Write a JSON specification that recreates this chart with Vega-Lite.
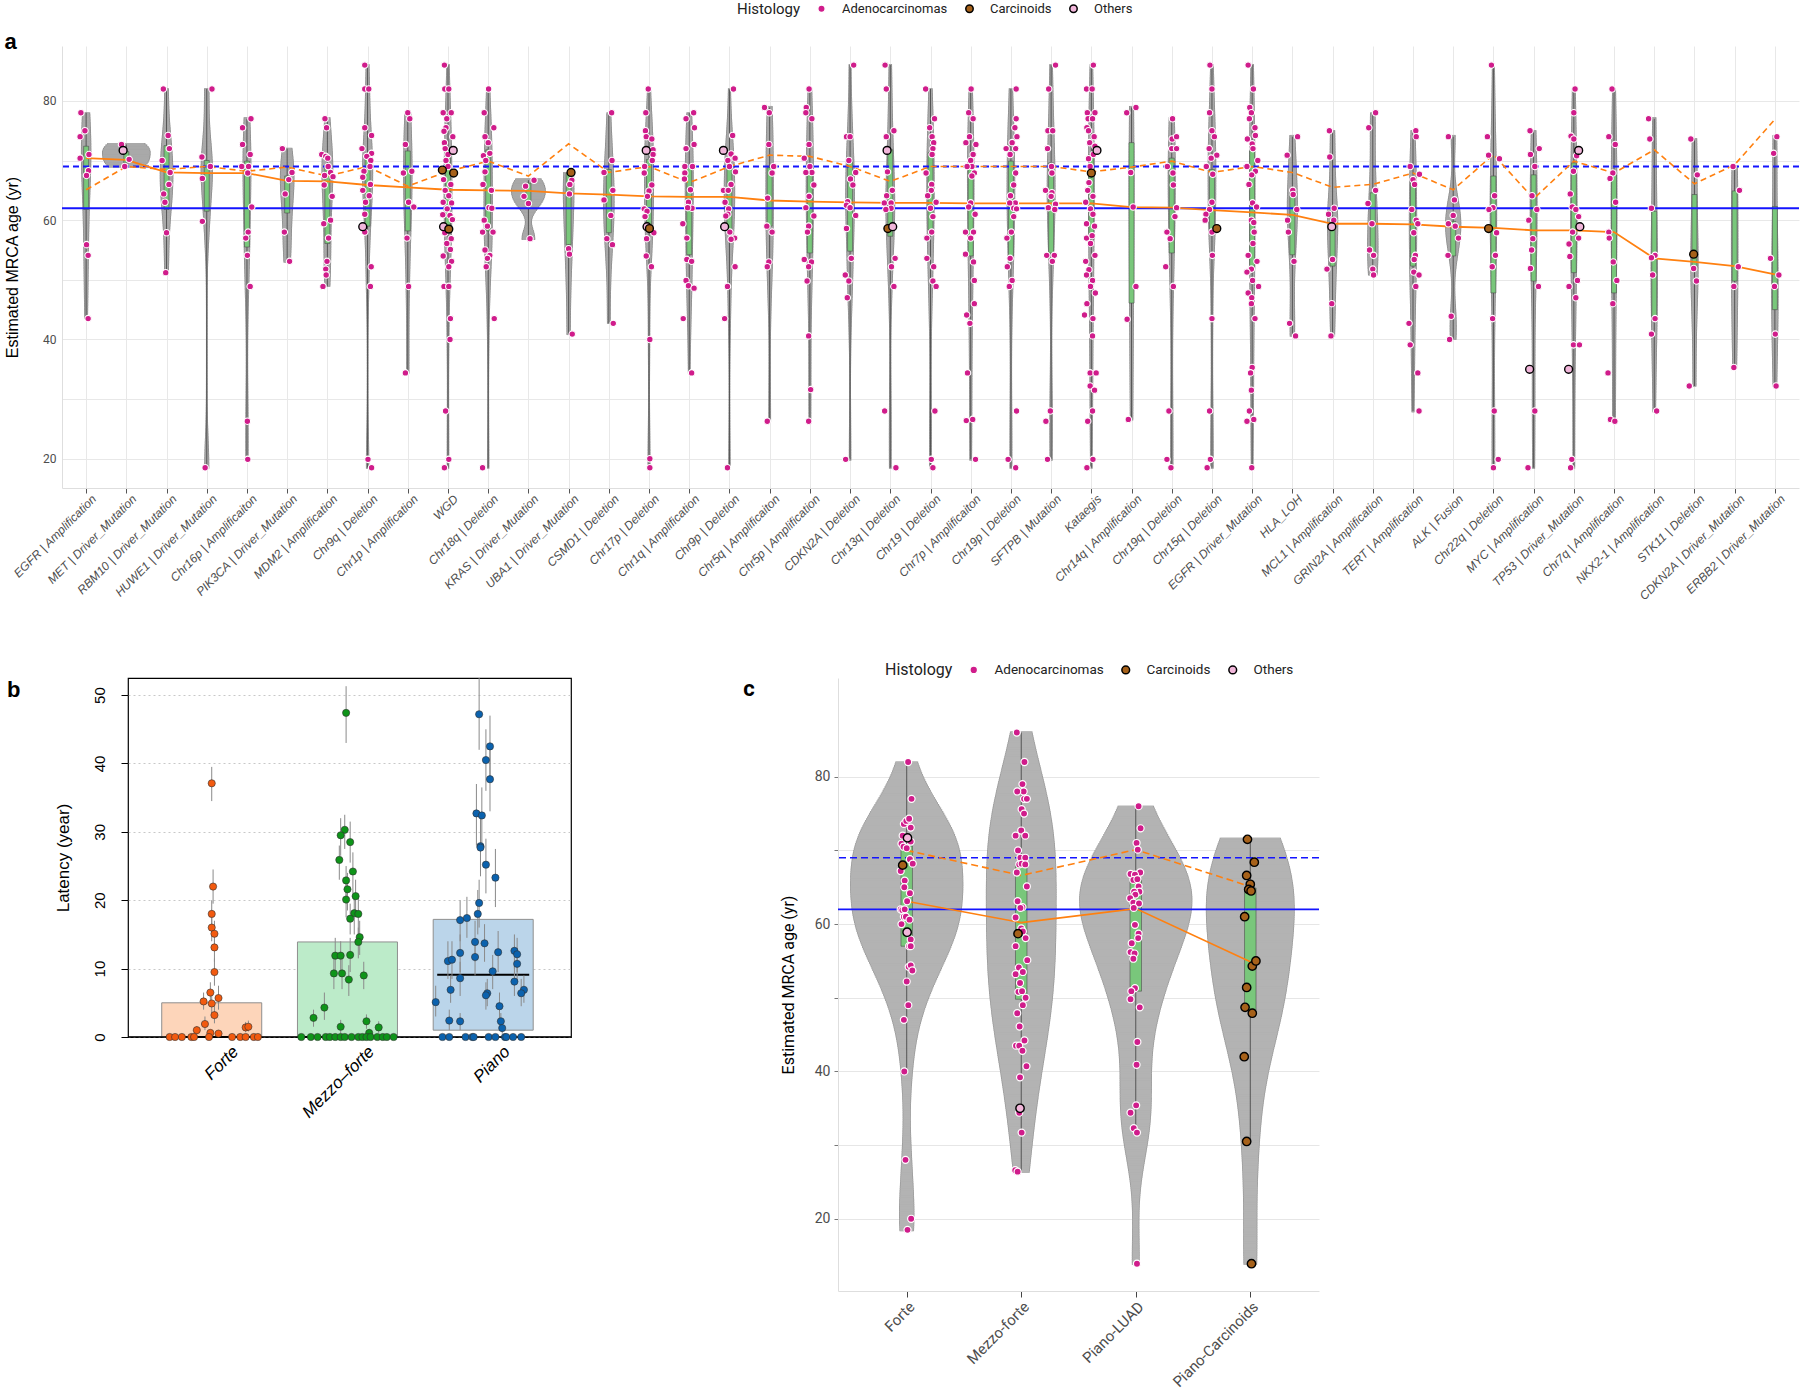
{
"$schema": "https://vega.github.io/schema/vega-lite/v6.json",
"background": "white",
"padding": {"left": 4, "top": 2, "right": 0, "bottom": 0},
"columns": 1,
"align": "none",
"spacing": 60,
"config": {"view": {"stroke": null}, "font": "Liberation Sans", "axis": {"titleFontWeight": "normal"}, "legend": {"titleFontWeight": "normal"}},
"resolve": {"scale": {"x": "independent", "y": "independent", "fill": "independent", "stroke": "independent", "size": "independent", "color": "independent"}, "legend": {"fill": "independent", "stroke": "independent", "size": "independent"}},
"datasets": {
"catsA": [{"i":1,"c":"EGFR | Amplification"},{"i":2,"c":"MET | Driver_Mutation"},{"i":3,"c":"RBM10 | Driver_Mutation"},{"i":4,"c":"HUWE1 | Driver_Mutation"},{"i":5,"c":"Chr16p | Amplificaiton"},{"i":6,"c":"PIK3CA | Driver_Mutation"},{"i":7,"c":"MDM2 | Amplification"},{"i":8,"c":"Chr9q | Deletion"},{"i":9,"c":"Chr1p | Amplification"},{"i":10,"c":"WGD"},{"i":11,"c":"Chr18q | Deletion"},{"i":12,"c":"KRAS | Driver_Mutation"},{"i":13,"c":"UBA1 | Driver_Mutation"},{"i":14,"c":"CSMD1 | Deletion"},{"i":15,"c":"Chr17p | Deletion"},{"i":16,"c":"Chr1q | Amplification"},{"i":17,"c":"Chr9p | Deletion"},{"i":18,"c":"Chr5q | Amplificaiton"},{"i":19,"c":"Chr5p | Amplification"},{"i":20,"c":"CDKN2A | Deletion"},{"i":21,"c":"Chr13q | Deletion"},{"i":22,"c":"Chr19 | Deletion"},{"i":23,"c":"Chr7p | Amplificaiton"},{"i":24,"c":"Chr19p | Deletion"},{"i":25,"c":"SFTPB | Mutation"},{"i":26,"c":"Kataegis"},{"i":27,"c":"Chr14q | Amplification"},{"i":28,"c":"Chr19q | Deletion"},{"i":29,"c":"Chr15q | Deletion"},{"i":30,"c":"EGFR | Driver_Mutation"},{"i":31,"c":"HLA_LOH"},{"i":32,"c":"MCL1 | Amplification"},{"i":33,"c":"GRIN2A | Amplification"},{"i":34,"c":"TERT | Amplification"},{"i":35,"c":"ALK | Fusion"},{"i":36,"c":"Chr22q | Deletion"},{"i":37,"c":"MYC | Amplification"},{"i":38,"c":"TP53 | Driver_Mutation"},{"i":39,"c":"Chr7q | Amplification"},{"i":40,"c":"NKX2-1 | Amplification"},{"i":41,"c":"STK11 | Deletion"},{"i":42,"c":"CDKN2A | Driver_Mutation"},{"i":43,"c":"ERBB2 | Driver_Mutation"}],
"A": [
{"i":1,"m":70.4,"d":65.1,"q1":61.8,"q3":72.4,"lo":43.5,"hi":78},
{"i":2,"m":70.1,"d":69.0,"q1":69.6,"q3":71.5,"lo":69,"hi":72.7},
{"i":3,"m":68.0,"d":68.5,"q1":61.8,"q3":72.5,"lo":51.2,"hi":82},
{"i":4,"m":67.9,"d":69.0,"q1":61.5,"q3":70.0,"lo":18.5,"hi":82},
{"i":5,"m":67.9,"d":68.2,"q1":55.5,"q3":69.9,"lo":19.9,"hi":77},
{"i":6,"m":66.6,"d":68.9,"q1":61.2,"q3":67.4,"lo":53.1,"hi":72},
{"i":7,"m":66.5,"d":67.4,"q1":56.1,"q3":68.8,"lo":48.9,"hi":77},
{"i":8,"m":65.9,"d":69.0,"q1":59.0,"q3":71.3,"lo":18.5,"hi":86},
{"i":9,"m":65.5,"d":65.7,"q1":58.2,"q3":71.6,"lo":34.4,"hi":78},
{"i":10,"m":65.1,"d":68.2,"q1":59.0,"q3":71.0,"lo":18.5,"hi":86},
{"i":11,"m":65.0,"d":69.9,"q1":58.2,"q3":71.8,"lo":18.5,"hi":82},
{"i":12,"m":64.9,"d":67.4,"q1":62.5,"q3":66.2,"lo":56.9,"hi":66.7},
{"i":13,"m":64.5,"d":72.8,"q1":55.9,"q3":67.9,"lo":40.9,"hi":68},
{"i":14,"m":64.3,"d":68.0,"q1":57.9,"q3":68.5,"lo":42.7,"hi":78},
{"i":15,"m":64.0,"d":69.0,"q1":59.0,"q3":70.2,"lo":18.5,"hi":82},
{"i":16,"m":63.9,"d":66.3,"q1":54.2,"q3":69.0,"lo":34.4,"hi":78},
{"i":17,"m":63.9,"d":69.0,"q1":58.2,"q3":69.0,"lo":18.5,"hi":82},
{"i":18,"m":63.3,"d":70.9,"q1":59.0,"q3":68.8,"lo":26.3,"hi":78.9},
{"i":19,"m":63.1,"d":70.7,"q1":54.5,"q3":67.9,"lo":26.3,"hi":82},
{"i":20,"m":63.0,"d":69.0,"q1":54.8,"q3":70.2,"lo":19.9,"hi":86},
{"i":21,"m":62.9,"d":66.5,"q1":57.3,"q3":71.8,"lo":18.5,"hi":86},
{"i":22,"m":62.9,"d":69.0,"q1":58.4,"q3":71.3,"lo":18.5,"hi":82},
{"i":23,"m":62.8,"d":69.0,"q1":54.0,"q3":69.6,"lo":19.9,"hi":82},
{"i":24,"m":62.8,"d":69.0,"q1":54.0,"q3":69.9,"lo":18.5,"hi":82},
{"i":25,"m":62.8,"d":69.0,"q1":54.5,"q3":69.6,"lo":19.9,"hi":86},
{"i":26,"m":62.8,"d":68.1,"q1":56.8,"q3":71.0,"lo":18.5,"hi":86},
{"i":27,"m":62.2,"d":68.9,"q1":46.1,"q3":73.0,"lo":26.6,"hi":78.9},
{"i":28,"m":62.1,"d":69.9,"q1":54.5,"q3":70.4,"lo":18.5,"hi":77},
{"i":29,"m":61.7,"d":68.0,"q1":57.9,"q3":68.5,"lo":18.5,"hi":86},
{"i":30,"m":61.3,"d":69.0,"q1":51.7,"q3":71.6,"lo":18.5,"hi":86},
{"i":31,"m":60.9,"d":68.0,"q1":54.2,"q3":64.6,"lo":40.6,"hi":74},
{"i":32,"m":59.4,"d":65.5,"q1":52.3,"q3":59.8,"lo":40.6,"hi":75},
{"i":33,"m":59.4,"d":66.0,"q1":54.5,"q3":64.6,"lo":50.8,"hi":78},
{"i":34,"m":59.3,"d":67.9,"q1":52.3,"q3":66.8,"lo":28,"hi":75},
{"i":35,"m":58.9,"d":65.1,"q1":54.0,"q3":59.8,"lo":40,"hi":74},
{"i":36,"m":58.7,"d":71.0,"q1":47.8,"q3":67.4,"lo":18.5,"hi":86},
{"i":37,"m":58.3,"d":63.6,"q1":49.8,"q3":67.6,"lo":18.5,"hi":75},
{"i":38,"m":58.3,"d":69.9,"q1":51.2,"q3":69.6,"lo":18.5,"hi":82},
{"i":39,"m":58.0,"d":67.9,"q1":47.8,"q3":67.6,"lo":26.3,"hi":82},
{"i":40,"m":53.6,"d":71.8,"q1":43.9,"q3":61.5,"lo":28,"hi":77},
{"i":41,"m":53.0,"d":66.1,"q1":51.7,"q3":64.3,"lo":32.2,"hi":73.6},
{"i":42,"m":52.3,"d":69.3,"q1":49.8,"q3":64.9,"lo":35.3,"hi":69},
{"i":43,"m":50.9,"d":76.9,"q1":45.0,"q3":62.3,"lo":32.2,"hi":74},
{"i":1,"v":78,"j":-0.13,"h":"A"},{"i":1,"v":75,"j":-0.03,"h":"A"},{"i":1,"v":74,"j":-0.15,"h":"A"},{"i":1,"v":70.4,"j":-0.15,"h":"A"},{"i":1,"v":71,"j":0.07,"h":"A"},{"i":1,"v":68.3,"j":0.06,"h":"A"},{"i":1,"v":67.5,"j":0.01,"h":"A"},{"i":1,"v":55.9,"j":0.01,"h":"A"},{"i":1,"v":54.1,"j":0.05,"h":"A"},{"i":1,"v":43.5,"j":0.05,"h":"A"},
{"i":2,"v":72.7,"j":-0.12,"h":"A"},{"i":2,"v":71.7,"j":-0.08,"h":"O"},{"i":2,"v":70.2,"j":0.07,"h":"A"},{"i":2,"v":69,"j":-0.04,"h":"A"},
{"i":3,"v":82,"j":-0.08,"h":"A"},{"i":3,"v":74.2,"j":0.04,"h":"A"},{"i":3,"v":72,"j":0.07,"h":"A"},{"i":3,"v":70,"j":-0.11,"h":"A"},{"i":3,"v":68,"j":0.09,"h":"A"},{"i":3,"v":66,"j":0.06,"h":"A"},{"i":3,"v":64.4,"j":-0.07,"h":"A"},{"i":3,"v":63,"j":-0.04,"h":"A"},{"i":3,"v":57.9,"j":0,"h":"A"},{"i":3,"v":51.2,"j":-0.02,"h":"A"},
{"i":4,"v":82,"j":0.13,"h":"A"},{"i":4,"v":70.6,"j":-0.12,"h":"A"},{"i":4,"v":69,"j":0.09,"h":"A"},{"i":4,"v":67,"j":-0.11,"h":"A"},{"i":4,"v":59.8,"j":-0.11,"h":"A"},{"i":4,"v":18.5,"j":-0.04,"h":"A"},
{"i":5,"v":77,"j":0.1,"h":"A"},{"i":5,"v":75.5,"j":-0.11,"h":"A"},{"i":5,"v":72.7,"j":-0.11,"h":"A"},{"i":5,"v":71,"j":0.08,"h":"A"},{"i":5,"v":69,"j":-0.13,"h":"A"},{"i":5,"v":69,"j":0.04,"h":"A"},{"i":5,"v":67.9,"j":0.02,"h":"A"},{"i":5,"v":62.2,"j":0.12,"h":"A"},{"i":5,"v":58,"j":0.03,"h":"A"},{"i":5,"v":57,"j":-0.03,"h":"A"},{"i":5,"v":54.1,"j":0.01,"h":"A"},{"i":5,"v":48.9,"j":0.08,"h":"A"},{"i":5,"v":26.3,"j":0.01,"h":"A"},{"i":5,"v":19.9,"j":0.02,"h":"A"},
{"i":6,"v":72,"j":-0.12,"h":"A"},{"i":6,"v":68,"j":0.12,"h":"A"},{"i":6,"v":66.8,"j":0.04,"h":"A"},{"i":6,"v":64.4,"j":-0.05,"h":"A"},{"i":6,"v":58,"j":-0.07,"h":"A"},{"i":6,"v":53.1,"j":0.06,"h":"A"},
{"i":7,"v":77,"j":-0.06,"h":"A"},{"i":7,"v":75.5,"j":-0.02,"h":"A"},{"i":7,"v":71,"j":-0.14,"h":"A"},{"i":7,"v":70.7,"j":-0.04,"h":"A"},{"i":7,"v":70.4,"j":0.01,"h":"A"},{"i":7,"v":69,"j":0.02,"h":"A"},{"i":7,"v":68,"j":0.08,"h":"A"},{"i":7,"v":67.5,"j":-0.07,"h":"A"},{"i":7,"v":67.3,"j":0.14,"h":"A"},{"i":7,"v":65.9,"j":-0.08,"h":"A"},{"i":7,"v":64,"j":0.12,"h":"A"},{"i":7,"v":60,"j":0.08,"h":"A"},{"i":7,"v":59.4,"j":-0.09,"h":"A"},{"i":7,"v":57,"j":0.03,"h":"A"},{"i":7,"v":53.1,"j":-0.01,"h":"A"},{"i":7,"v":51.8,"j":-0.04,"h":"A"},{"i":7,"v":50.8,"j":-0.03,"h":"A"},{"i":7,"v":48.9,"j":-0.11,"h":"A"},
{"i":8,"v":86,"j":-0.07,"h":"A"},{"i":8,"v":82,"j":-0.07,"h":"A"},{"i":8,"v":82,"j":0.03,"h":"A"},{"i":8,"v":75.5,"j":-0.07,"h":"A"},{"i":8,"v":74.2,"j":0.1,"h":"A"},{"i":8,"v":72,"j":-0.14,"h":"A"},{"i":8,"v":71.2,"j":0.1,"h":"A"},{"i":8,"v":70.7,"j":-0.02,"h":"A"},{"i":8,"v":70,"j":0.08,"h":"A"},{"i":8,"v":69,"j":0.06,"h":"A"},{"i":8,"v":68.2,"j":-0.09,"h":"A"},{"i":8,"v":67.2,"j":-0.12,"h":"A"},{"i":8,"v":66,"j":0.07,"h":"A"},{"i":8,"v":65,"j":-0.12,"h":"A"},{"i":8,"v":64.1,"j":0.04,"h":"A"},{"i":8,"v":63,"j":-0.05,"h":"A"},{"i":8,"v":61,"j":-0.07,"h":"A"},{"i":8,"v":58.9,"j":-0.12,"h":"O"},{"i":8,"v":58,"j":-0.07,"h":"A"},{"i":8,"v":52.2,"j":0.09,"h":"A"},{"i":8,"v":48.9,"j":0.07,"h":"A"},{"i":8,"v":19.9,"j":0.01,"h":"A"},{"i":8,"v":18.5,"j":0.1,"h":"A"},
{"i":9,"v":78,"j":0,"h":"A"},{"i":9,"v":77,"j":0.05,"h":"A"},{"i":9,"v":72.7,"j":-0.06,"h":"A"},{"i":9,"v":67.9,"j":-0.11,"h":"A"},{"i":9,"v":68.2,"j":0.1,"h":"A"},{"i":9,"v":63,"j":0.02,"h":"A"},{"i":9,"v":62.2,"j":0.15,"h":"A"},{"i":9,"v":57,"j":-0.02,"h":"A"},{"i":9,"v":48.9,"j":0.02,"h":"A"},{"i":9,"v":34.4,"j":-0.06,"h":"A"},
{"i":10,"v":86,"j":-0.09,"h":"A"},{"i":10,"v":82,"j":-0.08,"h":"A"},{"i":10,"v":82,"j":0.02,"h":"A"},{"i":10,"v":78,"j":-0.12,"h":"A"},{"i":10,"v":78,"j":0.08,"h":"A"},{"i":10,"v":77,"j":-0.03,"h":"A"},{"i":10,"v":75.5,"j":-0.05,"h":"A"},{"i":10,"v":74.9,"j":-0.1,"h":"A"},{"i":10,"v":74,"j":0.12,"h":"A"},{"i":10,"v":73,"j":-0.09,"h":"A"},{"i":10,"v":72,"j":-0.07,"h":"A"},{"i":10,"v":71.7,"j":0.13,"h":"O"},{"i":10,"v":71,"j":0,"h":"A"},{"i":10,"v":70,"j":-0.05,"h":"A"},{"i":10,"v":69,"j":0,"h":"A"},{"i":10,"v":68.4,"j":-0.14,"h":"C"},{"i":10,"v":67.9,"j":0.14,"h":"C"},{"i":10,"v":66.8,"j":-0.11,"h":"A"},{"i":10,"v":66,"j":0.07,"h":"A"},{"i":10,"v":65,"j":-0.07,"h":"A"},{"i":10,"v":64.1,"j":0.02,"h":"A"},{"i":10,"v":63,"j":-0.12,"h":"A"},{"i":10,"v":62.9,"j":0.09,"h":"A"},{"i":10,"v":61.9,"j":-0.02,"h":"A"},{"i":10,"v":60.9,"j":-0.13,"h":"A"},{"i":10,"v":60.8,"j":0.05,"h":"A"},{"i":10,"v":60.1,"j":0.11,"h":"A"},{"i":10,"v":58.9,"j":-0.11,"h":"O"},{"i":10,"v":58.5,"j":0.02,"h":"C"},{"i":10,"v":57.9,"j":-0.08,"h":"A"},{"i":10,"v":56.9,"j":0.08,"h":"A"},{"i":10,"v":56.1,"j":-0.03,"h":"A"},{"i":10,"v":55.1,"j":0.06,"h":"A"},{"i":10,"v":54,"j":-0.12,"h":"A"},{"i":10,"v":53.1,"j":0.09,"h":"A"},{"i":10,"v":52.2,"j":0.02,"h":"A"},{"i":10,"v":48.9,"j":-0.1,"h":"A"},{"i":10,"v":48.9,"j":0.02,"h":"A"},{"i":10,"v":43.5,"j":0.06,"h":"A"},{"i":10,"v":40,"j":0.05,"h":"A"},{"i":10,"v":28,"j":-0.06,"h":"A"},{"i":10,"v":19.9,"j":0.02,"h":"A"},{"i":10,"v":18.5,"j":-0.09,"h":"A"},
{"i":11,"v":82,"j":0.01,"h":"A"},{"i":11,"v":78,"j":-0.1,"h":"A"},{"i":11,"v":75.5,"j":0.14,"h":"A"},{"i":11,"v":74,"j":-0.08,"h":"A"},{"i":11,"v":73,"j":0,"h":"A"},{"i":11,"v":71.2,"j":0.04,"h":"A"},{"i":11,"v":70.8,"j":-0.12,"h":"A"},{"i":11,"v":70,"j":-0.06,"h":"A"},{"i":11,"v":68.1,"j":-0.08,"h":"A"},{"i":11,"v":66,"j":-0.13,"h":"A"},{"i":11,"v":65,"j":0.08,"h":"A"},{"i":11,"v":62.1,"j":0.02,"h":"A"},{"i":11,"v":62,"j":0.09,"h":"A"},{"i":11,"v":60,"j":-0.1,"h":"A"},{"i":11,"v":59,"j":-0.02,"h":"A"},{"i":11,"v":58,"j":0.12,"h":"A"},{"i":11,"v":58,"j":-0.14,"h":"A"},{"i":11,"v":55,"j":-0.08,"h":"A"},{"i":11,"v":54.1,"j":0.04,"h":"A"},{"i":11,"v":53.6,"j":-0.02,"h":"A"},{"i":11,"v":52.2,"j":-0.05,"h":"A"},{"i":11,"v":43.5,"j":0.15,"h":"A"},{"i":11,"v":18.5,"j":-0.14,"h":"A"},
{"i":12,"v":66.7,"j":0.14,"h":"A"},{"i":12,"v":65.7,"j":-0.07,"h":"A"},{"i":12,"v":64,"j":-0.11,"h":"A"},{"i":12,"v":62.8,"j":0,"h":"A"},{"i":12,"v":56.9,"j":0.04,"h":"A"},
{"i":13,"v":68,"j":0.06,"h":"C"},{"i":13,"v":66.7,"j":0.08,"h":"A"},{"i":13,"v":66,"j":0.03,"h":"A"},{"i":13,"v":64.4,"j":0.02,"h":"A"},{"i":13,"v":55.2,"j":0,"h":"A"},{"i":13,"v":54.3,"j":0.02,"h":"A"},{"i":13,"v":40.9,"j":0.09,"h":"A"},
{"i":14,"v":78,"j":0.07,"h":"A"},{"i":14,"v":70,"j":0.08,"h":"A"},{"i":14,"v":68,"j":-0.12,"h":"A"},{"i":14,"v":65,"j":0.1,"h":"A"},{"i":14,"v":63.4,"j":-0.12,"h":"A"},{"i":14,"v":60.8,"j":0.05,"h":"A"},{"i":14,"v":56.9,"j":-0.05,"h":"A"},{"i":14,"v":55.9,"j":0.09,"h":"A"},{"i":14,"v":42.7,"j":0.11,"h":"A"},
{"i":15,"v":82,"j":-0.02,"h":"A"},{"i":15,"v":78,"j":-0.08,"h":"A"},{"i":15,"v":75,"j":-0.09,"h":"A"},{"i":15,"v":74,"j":-0.07,"h":"A"},{"i":15,"v":73.6,"j":0.07,"h":"A"},{"i":15,"v":71.7,"j":-0.07,"h":"O"},{"i":15,"v":71.8,"j":0.1,"h":"A"},{"i":15,"v":71,"j":0.1,"h":"A"},{"i":15,"v":70,"j":0.08,"h":"A"},{"i":15,"v":69,"j":-0.11,"h":"A"},{"i":15,"v":67.9,"j":-0.12,"h":"A"},{"i":15,"v":65.9,"j":0.07,"h":"A"},{"i":15,"v":64.9,"j":0,"h":"A"},{"i":15,"v":64,"j":-0.04,"h":"A"},{"i":15,"v":61.9,"j":-0.12,"h":"A"},{"i":15,"v":61.5,"j":-0.05,"h":"A"},{"i":15,"v":60.6,"j":-0.1,"h":"A"},{"i":15,"v":58.9,"j":-0.05,"h":"O"},{"i":15,"v":58.6,"j":0.01,"h":"C"},{"i":15,"v":57.9,"j":0.12,"h":"A"},{"i":15,"v":56.9,"j":-0.06,"h":"A"},{"i":15,"v":54,"j":-0.07,"h":"A"},{"i":15,"v":52.2,"j":0.06,"h":"A"},{"i":15,"v":40,"j":0.02,"h":"A"},{"i":15,"v":20,"j":0.02,"h":"A"},{"i":15,"v":18.5,"j":0.02,"h":"A"},
{"i":16,"v":78,"j":0.11,"h":"A"},{"i":16,"v":77,"j":-0.08,"h":"A"},{"i":16,"v":75.5,"j":0.13,"h":"A"},{"i":16,"v":72.7,"j":0.12,"h":"A"},{"i":16,"v":72,"j":-0.08,"h":"A"},{"i":16,"v":69,"j":-0.11,"h":"A"},{"i":16,"v":69,"j":0.08,"h":"A"},{"i":16,"v":67.9,"j":-0.11,"h":"A"},{"i":16,"v":66.9,"j":-0.12,"h":"A"},{"i":16,"v":65.1,"j":0.03,"h":"A"},{"i":16,"v":63,"j":-0.02,"h":"A"},{"i":16,"v":62,"j":0.07,"h":"A"},{"i":16,"v":62.1,"j":-0.04,"h":"A"},{"i":16,"v":59.4,"j":-0.16,"h":"A"},{"i":16,"v":57,"j":-0.06,"h":"A"},{"i":16,"v":53.4,"j":-0.06,"h":"A"},{"i":16,"v":53.1,"j":0.06,"h":"A"},{"i":16,"v":49.9,"j":-0.08,"h":"A"},{"i":16,"v":49,"j":-0.02,"h":"A"},{"i":16,"v":48.6,"j":0.12,"h":"A"},{"i":16,"v":43.5,"j":-0.15,"h":"A"},{"i":16,"v":34.4,"j":0.06,"h":"A"},
{"i":17,"v":82,"j":0.1,"h":"A"},{"i":17,"v":74.2,"j":0.08,"h":"A"},{"i":17,"v":71.7,"j":-0.15,"h":"O"},{"i":17,"v":71.1,"j":0.04,"h":"A"},{"i":17,"v":70.4,"j":0.14,"h":"A"},{"i":17,"v":70,"j":-0.04,"h":"A"},{"i":17,"v":69,"j":0,"h":"A"},{"i":17,"v":68.1,"j":0.15,"h":"A"},{"i":17,"v":66,"j":0.04,"h":"A"},{"i":17,"v":65,"j":-0.15,"h":"A"},{"i":17,"v":65,"j":-0.03,"h":"A"},{"i":17,"v":63,"j":-0.11,"h":"A"},{"i":17,"v":61.9,"j":-0.02,"h":"A"},{"i":17,"v":61,"j":-0.04,"h":"A"},{"i":17,"v":60.7,"j":-0.09,"h":"A"},{"i":17,"v":58.9,"j":-0.12,"h":"O"},{"i":17,"v":58,"j":0.01,"h":"A"},{"i":17,"v":57,"j":0.13,"h":"A"},{"i":17,"v":56.8,"j":0.04,"h":"A"},{"i":17,"v":52.2,"j":0.14,"h":"A"},{"i":17,"v":48.9,"j":-0.05,"h":"A"},{"i":17,"v":43.5,"j":-0.12,"h":"A"},{"i":17,"v":18.5,"j":-0.05,"h":"A"},
{"i":18,"v":78.9,"j":-0.13,"h":"A"},{"i":18,"v":78,"j":-0.01,"h":"A"},{"i":18,"v":72.7,"j":-0.02,"h":"A"},{"i":18,"v":69,"j":0.1,"h":"A"},{"i":18,"v":67.9,"j":0.06,"h":"A"},{"i":18,"v":63.7,"j":-0.05,"h":"A"},{"i":18,"v":59,"j":-0.07,"h":"A"},{"i":18,"v":58,"j":0.06,"h":"A"},{"i":18,"v":53,"j":-0.02,"h":"A"},{"i":18,"v":52.2,"j":-0.06,"h":"A"},{"i":18,"v":26.3,"j":-0.06,"h":"A"},
{"i":19,"v":82,"j":-0.02,"h":"A"},{"i":19,"v":78.9,"j":-0.09,"h":"A"},{"i":19,"v":78,"j":-0.1,"h":"A"},{"i":19,"v":77,"j":0.05,"h":"A"},{"i":19,"v":72.7,"j":-0.02,"h":"A"},{"i":19,"v":70.4,"j":-0.14,"h":"A"},{"i":19,"v":69,"j":0,"h":"A"},{"i":19,"v":68,"j":0.05,"h":"A"},{"i":19,"v":68,"j":-0.1,"h":"A"},{"i":19,"v":65.9,"j":0.1,"h":"A"},{"i":19,"v":64,"j":-0.02,"h":"A"},{"i":19,"v":62.1,"j":-0.1,"h":"A"},{"i":19,"v":60.7,"j":0.1,"h":"A"},{"i":19,"v":59,"j":-0.03,"h":"A"},{"i":19,"v":58,"j":-0.06,"h":"A"},{"i":19,"v":53.4,"j":-0.14,"h":"A"},{"i":19,"v":53,"j":0.04,"h":"A"},{"i":19,"v":52.2,"j":-0.03,"h":"A"},{"i":19,"v":49.8,"j":-0.07,"h":"A"},{"i":19,"v":40.6,"j":-0.03,"h":"A"},{"i":19,"v":31.6,"j":0.02,"h":"A"},{"i":19,"v":26.3,"j":-0.03,"h":"A"},
{"i":20,"v":86,"j":0.09,"h":"A"},{"i":20,"v":74,"j":-0.09,"h":"A"},{"i":20,"v":74,"j":0,"h":"A"},{"i":20,"v":70,"j":-0.03,"h":"A"},{"i":20,"v":68,"j":0.14,"h":"A"},{"i":20,"v":66.9,"j":0.01,"h":"A"},{"i":20,"v":65.9,"j":0.07,"h":"A"},{"i":20,"v":63.1,"j":-0.06,"h":"A"},{"i":20,"v":62.5,"j":-0.09,"h":"A"},{"i":20,"v":62.1,"j":0,"h":"A"},{"i":20,"v":60.8,"j":0.14,"h":"A"},{"i":20,"v":58.6,"j":-0.09,"h":"A"},{"i":20,"v":53.6,"j":0.03,"h":"A"},{"i":20,"v":50.8,"j":-0.12,"h":"A"},{"i":20,"v":49.8,"j":-0.03,"h":"A"},{"i":20,"v":47,"j":-0.07,"h":"A"},{"i":20,"v":19.9,"j":-0.11,"h":"A"},
{"i":21,"v":86,"j":-0.13,"h":"A"},{"i":21,"v":82,"j":-0.1,"h":"A"},{"i":21,"v":75,"j":0.09,"h":"A"},{"i":21,"v":74,"j":-0.1,"h":"A"},{"i":21,"v":71.7,"j":-0.08,"h":"O"},{"i":21,"v":68.1,"j":-0.07,"h":"A"},{"i":21,"v":65,"j":0.05,"h":"A"},{"i":21,"v":64.1,"j":-0.09,"h":"A"},{"i":21,"v":62.9,"j":-0.15,"h":"A"},{"i":21,"v":62.9,"j":0.02,"h":"A"},{"i":21,"v":62,"j":0.02,"h":"A"},{"i":21,"v":61.8,"j":-0.11,"h":"A"},{"i":21,"v":58.6,"j":-0.06,"h":"C"},{"i":21,"v":58.9,"j":0.06,"h":"O"},{"i":21,"v":53.6,"j":0.12,"h":"A"},{"i":21,"v":52.2,"j":0.03,"h":"A"},{"i":21,"v":48.9,"j":0.09,"h":"A"},{"i":21,"v":28,"j":-0.14,"h":"A"},{"i":21,"v":18.5,"j":0.14,"h":"A"},
{"i":22,"v":82,"j":-0.12,"h":"A"},{"i":22,"v":77,"j":0.1,"h":"A"},{"i":22,"v":75.5,"j":-0.02,"h":"A"},{"i":22,"v":74,"j":0.04,"h":"A"},{"i":22,"v":73,"j":0.08,"h":"A"},{"i":22,"v":72,"j":0.06,"h":"A"},{"i":22,"v":71,"j":0.04,"h":"A"},{"i":22,"v":67.9,"j":-0.11,"h":"A"},{"i":22,"v":66,"j":0.03,"h":"A"},{"i":22,"v":65,"j":0.02,"h":"A"},{"i":22,"v":64.1,"j":-0.07,"h":"A"},{"i":22,"v":63,"j":0.14,"h":"A"},{"i":22,"v":62,"j":0,"h":"A"},{"i":22,"v":60.6,"j":0.06,"h":"A"},{"i":22,"v":58,"j":0.03,"h":"A"},{"i":22,"v":57,"j":-0.09,"h":"A"},{"i":22,"v":53.6,"j":-0.09,"h":"A"},{"i":22,"v":52.2,"j":0.08,"h":"A"},{"i":22,"v":49.8,"j":0.06,"h":"A"},{"i":22,"v":48.9,"j":0.14,"h":"A"},{"i":22,"v":28,"j":0.11,"h":"A"},{"i":22,"v":19.9,"j":0.02,"h":"A"},{"i":22,"v":18.5,"j":0.06,"h":"A"},
{"i":23,"v":82,"j":0.01,"h":"A"},{"i":23,"v":78,"j":-0.05,"h":"A"},{"i":23,"v":77,"j":0.06,"h":"A"},{"i":23,"v":74,"j":-0.03,"h":"A"},{"i":23,"v":73,"j":-0.12,"h":"A"},{"i":23,"v":72.7,"j":0.13,"h":"A"},{"i":23,"v":71,"j":0.06,"h":"A"},{"i":23,"v":70,"j":0,"h":"A"},{"i":23,"v":69,"j":0.03,"h":"A"},{"i":23,"v":69,"j":-0.09,"h":"A"},{"i":23,"v":67.9,"j":0.09,"h":"A"},{"i":23,"v":67.4,"j":0.03,"h":"A"},{"i":23,"v":62.9,"j":0,"h":"A"},{"i":23,"v":62.2,"j":-0.05,"h":"A"},{"i":23,"v":61,"j":0.11,"h":"A"},{"i":23,"v":58,"j":-0.13,"h":"A"},{"i":23,"v":58,"j":0.07,"h":"A"},{"i":23,"v":57,"j":0,"h":"A"},{"i":23,"v":54.3,"j":-0.13,"h":"A"},{"i":23,"v":53,"j":0.07,"h":"A"},{"i":23,"v":49.9,"j":0.09,"h":"A"},{"i":23,"v":46,"j":0.09,"h":"A"},{"i":23,"v":44.1,"j":-0.1,"h":"A"},{"i":23,"v":42.7,"j":-0.02,"h":"A"},{"i":23,"v":34.4,"j":-0.08,"h":"A"},{"i":23,"v":26.4,"j":-0.11,"h":"A"},{"i":23,"v":26.6,"j":0.05,"h":"A"},{"i":23,"v":19.9,"j":0.12,"h":"A"},
{"i":24,"v":82,"j":0.13,"h":"A"},{"i":24,"v":77,"j":0.13,"h":"A"},{"i":24,"v":75.5,"j":0.1,"h":"A"},{"i":24,"v":74,"j":0.15,"h":"A"},{"i":24,"v":73,"j":0.03,"h":"A"},{"i":24,"v":72,"j":-0.12,"h":"A"},{"i":24,"v":72,"j":0.12,"h":"A"},{"i":24,"v":71,"j":-0.02,"h":"A"},{"i":24,"v":67.9,"j":0.12,"h":"A"},{"i":24,"v":65.9,"j":0.07,"h":"A"},{"i":24,"v":64.1,"j":-0.01,"h":"A"},{"i":24,"v":62.9,"j":0.11,"h":"A"},{"i":24,"v":62,"j":0.07,"h":"A"},{"i":24,"v":62.9,"j":-0.03,"h":"A"},{"i":24,"v":61.9,"j":0.14,"h":"A"},{"i":24,"v":60.6,"j":0.07,"h":"A"},{"i":24,"v":58,"j":0.01,"h":"A"},{"i":24,"v":57,"j":-0.1,"h":"A"},{"i":24,"v":53.6,"j":-0.02,"h":"A"},{"i":24,"v":52.2,"j":-0.09,"h":"A"},{"i":24,"v":49.9,"j":0.03,"h":"A"},{"i":24,"v":48.9,"j":-0.04,"h":"A"},{"i":24,"v":28,"j":0.14,"h":"A"},{"i":24,"v":19.9,"j":-0.07,"h":"A"},{"i":24,"v":18.5,"j":0.12,"h":"A"},
{"i":25,"v":86,"j":0.11,"h":"A"},{"i":25,"v":82,"j":-0.06,"h":"A"},{"i":25,"v":75,"j":-0.08,"h":"A"},{"i":25,"v":75,"j":0.04,"h":"A"},{"i":25,"v":72,"j":-0.09,"h":"A"},{"i":25,"v":69,"j":0.01,"h":"A"},{"i":25,"v":67.9,"j":0.02,"h":"A"},{"i":25,"v":65,"j":-0.14,"h":"A"},{"i":25,"v":64.6,"j":0.02,"h":"A"},{"i":25,"v":64,"j":0,"h":"A"},{"i":25,"v":62.7,"j":0.11,"h":"A"},{"i":25,"v":62.1,"j":-0.07,"h":"A"},{"i":25,"v":61.8,"j":0.09,"h":"A"},{"i":25,"v":54.1,"j":-0.11,"h":"A"},{"i":25,"v":54.1,"j":0.08,"h":"A"},{"i":25,"v":53.1,"j":0.03,"h":"A"},{"i":25,"v":28,"j":-0.02,"h":"A"},{"i":25,"v":26.3,"j":-0.13,"h":"A"},{"i":25,"v":19.9,"j":-0.09,"h":"A"},
{"i":26,"v":86,"j":0.05,"h":"A"},{"i":26,"v":82,"j":-0.12,"h":"A"},{"i":26,"v":82,"j":0.02,"h":"A"},{"i":26,"v":78,"j":-0.1,"h":"A"},{"i":26,"v":78,"j":0.09,"h":"A"},{"i":26,"v":77,"j":-0.08,"h":"A"},{"i":26,"v":77,"j":0.03,"h":"A"},{"i":26,"v":75.5,"j":-0.11,"h":"A"},{"i":26,"v":75,"j":-0.07,"h":"A"},{"i":26,"v":74,"j":0.07,"h":"A"},{"i":26,"v":73,"j":-0.04,"h":"A"},{"i":26,"v":72.4,"j":0.09,"h":"A"},{"i":26,"v":71,"j":0.05,"h":"A"},{"i":26,"v":71.7,"j":0.14,"h":"O"},{"i":26,"v":70.3,"j":-0.07,"h":"A"},{"i":26,"v":69,"j":-0.03,"h":"A"},{"i":26,"v":67.9,"j":0,"h":"C"},{"i":26,"v":66.3,"j":-0.06,"h":"A"},{"i":26,"v":65,"j":-0.09,"h":"A"},{"i":26,"v":64,"j":0.04,"h":"A"},{"i":26,"v":63,"j":-0.14,"h":"A"},{"i":26,"v":61.9,"j":-0.02,"h":"A"},{"i":26,"v":61,"j":0.04,"h":"A"},{"i":26,"v":59.4,"j":-0.12,"h":"A"},{"i":26,"v":59,"j":0.08,"h":"A"},{"i":26,"v":57,"j":-0.12,"h":"A"},{"i":26,"v":57.4,"j":0.02,"h":"A"},{"i":26,"v":56.1,"j":-0.02,"h":"A"},{"i":26,"v":54.1,"j":0.09,"h":"A"},{"i":26,"v":53.1,"j":-0.14,"h":"A"},{"i":26,"v":51.7,"j":-0.06,"h":"A"},{"i":26,"v":50.8,"j":-0.12,"h":"A"},{"i":26,"v":49.9,"j":0.03,"h":"A"},{"i":26,"v":48.9,"j":-0.02,"h":"A"},{"i":26,"v":47.8,"j":0.1,"h":"A"},{"i":26,"v":46,"j":-0.11,"h":"A"},{"i":26,"v":44.1,"j":-0.17,"h":"A"},{"i":26,"v":43.5,"j":0.04,"h":"A"},{"i":26,"v":40.6,"j":0.03,"h":"A"},{"i":26,"v":34.4,"j":-0.03,"h":"A"},{"i":26,"v":34.4,"j":0.12,"h":"A"},{"i":26,"v":32.2,"j":-0.03,"h":"A"},{"i":26,"v":31.5,"j":0.08,"h":"A"},{"i":26,"v":28,"j":0.03,"h":"A"},{"i":26,"v":26.3,"j":-0.09,"h":"A"},{"i":26,"v":19.9,"j":0.04,"h":"A"},{"i":26,"v":18.5,"j":-0.11,"h":"A"},
{"i":27,"v":78,"j":-0.12,"h":"A"},{"i":27,"v":78.9,"j":0.11,"h":"A"},{"i":27,"v":68,"j":-0.02,"h":"A"},{"i":27,"v":62.2,"j":0.04,"h":"A"},{"i":27,"v":48.9,"j":0.11,"h":"A"},{"i":27,"v":43.4,"j":-0.11,"h":"A"},{"i":27,"v":26.6,"j":-0.08,"h":"A"},
{"i":28,"v":77,"j":0.02,"h":"A"},{"i":28,"v":73.6,"j":0.01,"h":"A"},{"i":28,"v":74,"j":0.12,"h":"A"},{"i":28,"v":72,"j":0,"h":"A"},{"i":28,"v":72,"j":0.12,"h":"A"},{"i":28,"v":69,"j":-0.11,"h":"A"},{"i":28,"v":67.9,"j":0.03,"h":"A"},{"i":28,"v":65.9,"j":0.04,"h":"A"},{"i":28,"v":62.1,"j":0.12,"h":"A"},{"i":28,"v":60.6,"j":0.08,"h":"A"},{"i":28,"v":58,"j":-0.12,"h":"A"},{"i":28,"v":56.9,"j":-0.04,"h":"A"},{"i":28,"v":52.2,"j":-0.15,"h":"A"},{"i":28,"v":48.9,"j":0.04,"h":"A"},{"i":28,"v":28,"j":-0.07,"h":"A"},{"i":28,"v":19.9,"j":-0.12,"h":"A"},{"i":28,"v":18.5,"j":-0.02,"h":"A"},
{"i":29,"v":86,"j":-0.05,"h":"A"},{"i":29,"v":82,"j":0,"h":"A"},{"i":29,"v":78,"j":-0.06,"h":"A"},{"i":29,"v":75,"j":0,"h":"A"},{"i":29,"v":74,"j":0.06,"h":"A"},{"i":29,"v":72,"j":-0.07,"h":"A"},{"i":29,"v":70.9,"j":0.12,"h":"A"},{"i":29,"v":70.4,"j":-0.02,"h":"A"},{"i":29,"v":69,"j":-0.14,"h":"A"},{"i":29,"v":67.7,"j":0.02,"h":"A"},{"i":29,"v":63,"j":0,"h":"A"},{"i":29,"v":61.8,"j":-0.06,"h":"A"},{"i":29,"v":61,"j":-0.15,"h":"A"},{"i":29,"v":60,"j":-0.17,"h":"A"},{"i":29,"v":58.6,"j":0.12,"h":"C"},{"i":29,"v":58,"j":0,"h":"A"},{"i":29,"v":54.1,"j":0.01,"h":"A"},{"i":29,"v":43.5,"j":0,"h":"A"},{"i":29,"v":28,"j":-0.06,"h":"A"},{"i":29,"v":19.9,"j":-0.04,"h":"A"},{"i":29,"v":18.5,"j":-0.12,"h":"A"},
{"i":30,"v":86,"j":-0.1,"h":"A"},{"i":30,"v":82,"j":0.03,"h":"A"},{"i":30,"v":78.9,"j":-0.06,"h":"A"},{"i":30,"v":78,"j":-0.02,"h":"A"},{"i":30,"v":77,"j":-0.07,"h":"A"},{"i":30,"v":75.5,"j":0.07,"h":"A"},{"i":30,"v":74.2,"j":0.08,"h":"A"},{"i":30,"v":73.6,"j":-0.12,"h":"A"},{"i":30,"v":72.8,"j":0,"h":"A"},{"i":30,"v":72,"j":0.02,"h":"A"},{"i":30,"v":70,"j":0.14,"h":"A"},{"i":30,"v":69,"j":-0.13,"h":"A"},{"i":30,"v":68.2,"j":0.08,"h":"A"},{"i":30,"v":67.6,"j":-0.01,"h":"A"},{"i":30,"v":66,"j":-0.08,"h":"A"},{"i":30,"v":62.9,"j":0.01,"h":"A"},{"i":30,"v":62.2,"j":0.11,"h":"A"},{"i":30,"v":60,"j":-0.02,"h":"A"},{"i":30,"v":59.6,"j":0.04,"h":"A"},{"i":30,"v":58,"j":0.05,"h":"A"},{"i":30,"v":56.1,"j":0.02,"h":"A"},{"i":30,"v":54.1,"j":-0.1,"h":"A"},{"i":30,"v":53.1,"j":0.12,"h":"A"},{"i":30,"v":51.8,"j":-0.02,"h":"A"},{"i":30,"v":51.3,"j":-0.13,"h":"A"},{"i":30,"v":49.9,"j":0.01,"h":"A"},{"i":30,"v":48.9,"j":0.16,"h":"A"},{"i":30,"v":47.8,"j":-0.1,"h":"A"},{"i":30,"v":47,"j":-0.01,"h":"A"},{"i":30,"v":46,"j":-0.02,"h":"A"},{"i":30,"v":43.5,"j":0.07,"h":"A"},{"i":30,"v":35.3,"j":0,"h":"A"},{"i":30,"v":34.4,"j":-0.04,"h":"A"},{"i":30,"v":31.5,"j":-0.02,"h":"A"},{"i":30,"v":28,"j":-0.07,"h":"A"},{"i":30,"v":26.3,"j":-0.13,"h":"A"},{"i":30,"v":26.6,"j":0.04,"h":"A"},{"i":30,"v":18.5,"j":-0.01,"h":"A"},
{"i":31,"v":74,"j":0.13,"h":"A"},{"i":31,"v":70.9,"j":-0.13,"h":"A"},{"i":31,"v":65,"j":0.01,"h":"A"},{"i":31,"v":64.3,"j":0.02,"h":"A"},{"i":31,"v":61.8,"j":0.11,"h":"A"},{"i":31,"v":60,"j":-0.12,"h":"A"},{"i":31,"v":58,"j":-0.1,"h":"A"},{"i":31,"v":53.1,"j":0.04,"h":"A"},{"i":31,"v":42.7,"j":-0.07,"h":"A"},{"i":31,"v":40.6,"j":0.08,"h":"A"},
{"i":32,"v":75,"j":-0.08,"h":"A"},{"i":32,"v":70.6,"j":-0.07,"h":"A"},{"i":32,"v":62,"j":0.04,"h":"A"},{"i":32,"v":61,"j":-0.1,"h":"A"},{"i":32,"v":60,"j":0.03,"h":"A"},{"i":32,"v":58.9,"j":-0.02,"h":"O"},{"i":32,"v":53.4,"j":0,"h":"A"},{"i":32,"v":51.8,"j":-0.14,"h":"A"},{"i":32,"v":46,"j":-0.02,"h":"A"},{"i":32,"v":40.6,"j":-0.04,"h":"A"},
{"i":33,"v":78,"j":0.07,"h":"A"},{"i":33,"v":75.5,"j":-0.1,"h":"A"},{"i":33,"v":65,"j":0.07,"h":"A"},{"i":33,"v":62.8,"j":-0.12,"h":"A"},{"i":33,"v":59.4,"j":-0.02,"h":"A"},{"i":33,"v":55,"j":-0.08,"h":"A"},{"i":33,"v":54.1,"j":0.02,"h":"A"},{"i":33,"v":51.8,"j":0,"h":"A"},{"i":33,"v":50.8,"j":0.02,"h":"A"},
{"i":34,"v":75,"j":0.07,"h":"A"},{"i":34,"v":74,"j":0.08,"h":"A"},{"i":34,"v":69,"j":-0.07,"h":"A"},{"i":34,"v":67.7,"j":0.16,"h":"A"},{"i":34,"v":66.8,"j":0,"h":"A"},{"i":34,"v":66,"j":0.04,"h":"A"},{"i":34,"v":61.8,"j":-0.03,"h":"A"},{"i":34,"v":60,"j":0.08,"h":"A"},{"i":34,"v":59.4,"j":0.12,"h":"A"},{"i":34,"v":57.9,"j":0.02,"h":"A"},{"i":34,"v":54.1,"j":0.06,"h":"A"},{"i":34,"v":53.4,"j":0.03,"h":"A"},{"i":34,"v":51.3,"j":0.02,"h":"A"},{"i":34,"v":50.8,"j":0.15,"h":"A"},{"i":34,"v":48.9,"j":0.07,"h":"A"},{"i":34,"v":42.7,"j":-0.1,"h":"A"},{"i":34,"v":39.1,"j":-0.07,"h":"A"},{"i":34,"v":34.4,"j":0.12,"h":"A"},{"i":34,"v":28,"j":0.15,"h":"A"},
{"i":35,"v":74,"j":-0.12,"h":"A"},{"i":35,"v":63.4,"j":0.03,"h":"A"},{"i":35,"v":60.8,"j":0,"h":"A"},{"i":35,"v":59.4,"j":-0.12,"h":"A"},{"i":35,"v":59,"j":0.05,"h":"A"},{"i":35,"v":57,"j":0.13,"h":"A"},{"i":35,"v":54.1,"j":-0.13,"h":"A"},{"i":35,"v":43.9,"j":-0.05,"h":"A"},{"i":35,"v":40,"j":-0.09,"h":"A"},
{"i":36,"v":86,"j":-0.05,"h":"A"},{"i":36,"v":74,"j":-0.15,"h":"A"},{"i":36,"v":70.9,"j":-0.12,"h":"A"},{"i":36,"v":70.3,"j":0.15,"h":"A"},{"i":36,"v":64.1,"j":0.03,"h":"A"},{"i":36,"v":62.1,"j":-0.01,"h":"A"},{"i":36,"v":61.8,"j":-0.11,"h":"A"},{"i":36,"v":58.6,"j":-0.12,"h":"C"},{"i":36,"v":57.9,"j":0.08,"h":"A"},{"i":36,"v":54.1,"j":0.05,"h":"A"},{"i":36,"v":52.2,"j":-0.03,"h":"A"},{"i":36,"v":43.5,"j":-0.02,"h":"A"},{"i":36,"v":28,"j":0.02,"h":"A"},{"i":36,"v":19.9,"j":0.12,"h":"A"},{"i":36,"v":18.5,"j":0,"h":"A"},
{"i":37,"v":75,"j":-0.09,"h":"A"},{"i":37,"v":72,"j":0.14,"h":"A"},{"i":37,"v":71,"j":-0.08,"h":"A"},{"i":37,"v":69,"j":0.03,"h":"A"},{"i":37,"v":64.1,"j":-0.04,"h":"A"},{"i":37,"v":61.8,"j":0.08,"h":"A"},{"i":37,"v":60,"j":-0.12,"h":"A"},{"i":37,"v":56.9,"j":-0.02,"h":"A"},{"i":37,"v":55,"j":-0.05,"h":"A"},{"i":37,"v":51.9,"j":-0.08,"h":"A"},{"i":37,"v":48.9,"j":0.12,"h":"A"},{"i":37,"v":35,"j":-0.1,"h":"O"},{"i":37,"v":28,"j":0.03,"h":"A"},{"i":37,"v":18.5,"j":-0.14,"h":"A"},
{"i":38,"v":82,"j":0.03,"h":"A"},{"i":38,"v":78,"j":0,"h":"A"},{"i":38,"v":74.1,"j":-0.07,"h":"A"},{"i":38,"v":73.6,"j":0,"h":"A"},{"i":38,"v":71.7,"j":0.12,"h":"O"},{"i":38,"v":70.8,"j":0.07,"h":"A"},{"i":38,"v":68.2,"j":-0.01,"h":"A"},{"i":38,"v":64.4,"j":-0.09,"h":"A"},{"i":38,"v":62.2,"j":-0.04,"h":"A"},{"i":38,"v":61.8,"j":0.05,"h":"A"},{"i":38,"v":60.6,"j":0.12,"h":"A"},{"i":38,"v":58.9,"j":0.15,"h":"O"},{"i":38,"v":58,"j":-0.03,"h":"A"},{"i":38,"v":57,"j":0.12,"h":"A"},{"i":38,"v":56,"j":-0.12,"h":"A"},{"i":38,"v":53.9,"j":-0.1,"h":"A"},{"i":38,"v":49.9,"j":0.09,"h":"A"},{"i":38,"v":48.9,"j":-0.12,"h":"A"},{"i":38,"v":47,"j":0.05,"h":"A"},{"i":38,"v":39.1,"j":-0.01,"h":"A"},{"i":38,"v":39.1,"j":0.14,"h":"A"},{"i":38,"v":35,"j":-0.13,"h":"O"},{"i":38,"v":19.9,"j":-0.05,"h":"A"},{"i":38,"v":18.5,"j":-0.08,"h":"A"},
{"i":39,"v":82,"j":-0.05,"h":"A"},{"i":39,"v":74,"j":-0.13,"h":"A"},{"i":39,"v":72.7,"j":0.03,"h":"A"},{"i":39,"v":67.9,"j":-0.03,"h":"A"},{"i":39,"v":67,"j":-0.1,"h":"A"},{"i":39,"v":63,"j":0.04,"h":"A"},{"i":39,"v":58,"j":-0.13,"h":"A"},{"i":39,"v":57,"j":-0.12,"h":"A"},{"i":39,"v":53,"j":-0.02,"h":"A"},{"i":39,"v":49.9,"j":0.07,"h":"A"},{"i":39,"v":46,"j":-0.03,"h":"A"},{"i":39,"v":34.4,"j":-0.15,"h":"A"},{"i":39,"v":26.6,"j":-0.09,"h":"A"},{"i":39,"v":26.3,"j":0.02,"h":"A"},
{"i":40,"v":77,"j":-0.14,"h":"A"},{"i":40,"v":73.6,"j":-0.11,"h":"A"},{"i":40,"v":62,"j":-0.07,"h":"A"},{"i":40,"v":54.1,"j":0.02,"h":"A"},{"i":40,"v":53.7,"j":-0.07,"h":"A"},{"i":40,"v":50.8,"j":-0.04,"h":"A"},{"i":40,"v":43.5,"j":0.02,"h":"A"},{"i":40,"v":40.9,"j":-0.07,"h":"A"},{"i":40,"v":28,"j":0.06,"h":"A"},
{"i":41,"v":73.6,"j":-0.09,"h":"A"},{"i":41,"v":67.6,"j":0.07,"h":"A"},{"i":41,"v":54.3,"j":-0.02,"h":"C"},{"i":41,"v":51.9,"j":-0.02,"h":"A"},{"i":41,"v":49.8,"j":0.05,"h":"A"},{"i":41,"v":32.2,"j":-0.13,"h":"A"},
{"i":42,"v":69,"j":-0.04,"h":"A"},{"i":42,"v":65,"j":0.12,"h":"A"},{"i":42,"v":52.2,"j":0.09,"h":"A"},{"i":42,"v":48.9,"j":-0.02,"h":"A"},{"i":42,"v":35.3,"j":-0.02,"h":"A"},
{"i":43,"v":74,"j":0.05,"h":"A"},{"i":43,"v":71.2,"j":-0.03,"h":"A"},{"i":43,"v":53.6,"j":-0.11,"h":"A"},{"i":43,"v":50.8,"j":0.1,"h":"A"},{"i":43,"v":48.9,"j":-0.01,"h":"A"},{"i":43,"v":40.9,"j":0.01,"h":"A"},{"i":43,"v":32.2,"j":0.03,"h":"A"}
],
"C": [
{"g":"Forte","m":63.1,"d":70.0,"q1":57.0,"q3":70.6,"lo":40,"hi":82},
{"g":"Mezzo-forte","m":60.2,"d":66.6,"q1":49.8,"q3":68.2,"lo":26.4,"hi":86},
{"g":"Piano-LUAD","m":62.1,"d":70.1,"q1":50.9,"q3":66.0,"lo":31.7,"hi":76},
{"g":"Piano-Carcinoids","m":54.9,"d":65.1,"q1":48.3,"q3":64.9,"lo":30.5,"hi":71.5},
{"g":"Forte","v":82,"j":0.035,"h":"A"},{"g":"Forte","v":77,"j":0.12,"h":"A"},{"g":"Forte","v":73.6,"j":-0.07,"h":"A"},{"g":"Forte","v":74,"j":-0.01,"h":"A"},{"g":"Forte","v":74.3,"j":0.06,"h":"A"},{"g":"Forte","v":72,"j":-0.1,"h":"A"},{"g":"Forte","v":73.1,"j":0.1,"h":"A"},{"g":"Forte","v":70.9,"j":-0.13,"h":"A"},{"g":"Forte","v":70.5,"j":-0.08,"h":"A"},{"g":"Forte","v":70.3,"j":0,"h":"A"},{"g":"Forte","v":71.2,"j":0.1,"h":"A"},{"g":"Forte","v":71.7,"j":0.02,"h":"O"},{"g":"Forte","v":68,"j":-0.1,"h":"C"},{"g":"Forte","v":68.8,"j":0.08,"h":"A"},{"g":"Forte","v":68.2,"j":0.15,"h":"A"},{"g":"Forte","v":67.2,"j":-0.15,"h":"A"},{"g":"Forte","v":65.9,"j":-0.05,"h":"A"},{"g":"Forte","v":65,"j":-0.06,"h":"A"},{"g":"Forte","v":64.2,"j":0.08,"h":"A"},{"g":"Forte","v":63.1,"j":0.01,"h":"A"},{"g":"Forte","v":62,"j":-0.15,"h":"A"},{"g":"Forte","v":61.9,"j":-0.11,"h":"A"},{"g":"Forte","v":62,"j":-0.05,"h":"A"},{"g":"Forte","v":61,"j":-0.07,"h":"A"},{"g":"Forte","v":61,"j":-0.02,"h":"A"},{"g":"Forte","v":60.6,"j":0.07,"h":"A"},{"g":"Forte","v":60,"j":-0.13,"h":"A"},{"g":"Forte","v":58.9,"j":0.01,"h":"O"},{"g":"Forte","v":57.9,"j":0.1,"h":"A"},{"g":"Forte","v":57,"j":0.06,"h":"A"},{"g":"Forte","v":57,"j":0.1,"h":"A"},{"g":"Forte","v":54.2,"j":0.05,"h":"A"},{"g":"Forte","v":54.4,"j":0.1,"h":"A"},{"g":"Forte","v":53.7,"j":0.14,"h":"A"},{"g":"Forte","v":52.2,"j":0,"h":"A"},{"g":"Forte","v":49,"j":0.04,"h":"A"},{"g":"Forte","v":47,"j":-0.07,"h":"A"},{"g":"Forte","v":40,"j":-0.06,"h":"A"},{"g":"Forte","v":28,"j":-0.03,"h":"A"},{"g":"Forte","v":20,"j":0.11,"h":"A"},{"g":"Forte","v":18.5,"j":0.02,"h":"A"},
{"g":"Mezzo-forte","v":86,"j":-0.11,"h":"A"},{"g":"Mezzo-forte","v":82,"j":0.08,"h":"A"},{"g":"Mezzo-forte","v":79,"j":0.03,"h":"A"},{"g":"Mezzo-forte","v":78,"j":0.06,"h":"A"},{"g":"Mezzo-forte","v":78,"j":-0.1,"h":"A"},{"g":"Mezzo-forte","v":77,"j":0.07,"h":"A"},{"g":"Mezzo-forte","v":77,"j":0.14,"h":"A"},{"g":"Mezzo-forte","v":75.6,"j":0.01,"h":"A"},{"g":"Mezzo-forte","v":75,"j":0.07,"h":"A"},{"g":"Mezzo-forte","v":72.7,"j":0,"h":"A"},{"g":"Mezzo-forte","v":72,"j":-0.14,"h":"A"},{"g":"Mezzo-forte","v":72,"j":0.1,"h":"A"},{"g":"Mezzo-forte","v":70,"j":-0.08,"h":"A"},{"g":"Mezzo-forte","v":69,"j":-0.02,"h":"A"},{"g":"Mezzo-forte","v":69,"j":0.1,"h":"A"},{"g":"Mezzo-forte","v":68.1,"j":-0.05,"h":"A"},{"g":"Mezzo-forte","v":68.2,"j":0.01,"h":"A"},{"g":"Mezzo-forte","v":68.1,"j":0.1,"h":"A"},{"g":"Mezzo-forte","v":67,"j":-0.11,"h":"A"},{"g":"Mezzo-forte","v":65.1,"j":0.14,"h":"A"},{"g":"Mezzo-forte","v":63.1,"j":-0.09,"h":"A"},{"g":"Mezzo-forte","v":62.3,"j":0.03,"h":"A"},{"g":"Mezzo-forte","v":62.2,"j":-0.02,"h":"A"},{"g":"Mezzo-forte","v":60.9,"j":-0.14,"h":"A"},{"g":"Mezzo-forte","v":59.4,"j":0,"h":"A"},{"g":"Mezzo-forte","v":59,"j":0.04,"h":"A"},{"g":"Mezzo-forte","v":58.7,"j":-0.08,"h":"C"},{"g":"Mezzo-forte","v":58.1,"j":0.11,"h":"A"},{"g":"Mezzo-forte","v":57,"j":-0.14,"h":"A"},{"g":"Mezzo-forte","v":55.1,"j":0.15,"h":"A"},{"g":"Mezzo-forte","v":54.1,"j":-0.06,"h":"A"},{"g":"Mezzo-forte","v":53.2,"j":-0.14,"h":"A"},{"g":"Mezzo-forte","v":53.5,"j":0.04,"h":"A"},{"g":"Mezzo-forte","v":52,"j":-0.03,"h":"A"},{"g":"Mezzo-forte","v":50.8,"j":-0.07,"h":"A"},{"g":"Mezzo-forte","v":50.9,"j":0.02,"h":"A"},{"g":"Mezzo-forte","v":50,"j":0.11,"h":"A"},{"g":"Mezzo-forte","v":49,"j":0.04,"h":"A"},{"g":"Mezzo-forte","v":47.9,"j":-0.1,"h":"A"},{"g":"Mezzo-forte","v":46.1,"j":-0.04,"h":"A"},{"g":"Mezzo-forte","v":43.5,"j":-0.13,"h":"A"},{"g":"Mezzo-forte","v":43.5,"j":-0.05,"h":"A"},{"g":"Mezzo-forte","v":44.2,"j":0.08,"h":"A"},{"g":"Mezzo-forte","v":42.8,"j":0.03,"h":"A"},{"g":"Mezzo-forte","v":40.7,"j":0.13,"h":"A"},{"g":"Mezzo-forte","v":39.2,"j":-0.03,"h":"A"},{"g":"Mezzo-forte","v":35,"j":-0.03,"h":"O"},{"g":"Mezzo-forte","v":34.4,"j":-0.05,"h":"A"},{"g":"Mezzo-forte","v":31.7,"j":0.01,"h":"A"},{"g":"Mezzo-forte","v":26.6,"j":-0.15,"h":"A"},{"g":"Mezzo-forte","v":26.4,"j":-0.09,"h":"A"},
{"g":"Piano-LUAD","v":76,"j":0.07,"h":"A"},{"g":"Piano-LUAD","v":73,"j":0.12,"h":"A"},{"g":"Piano-LUAD","v":71,"j":0.02,"h":"A"},{"g":"Piano-LUAD","v":70.1,"j":0.05,"h":"A"},{"g":"Piano-LUAD","v":67,"j":0.11,"h":"A"},{"g":"Piano-LUAD","v":66.8,"j":-0.13,"h":"A"},{"g":"Piano-LUAD","v":66.7,"j":-0.02,"h":"A"},{"g":"Piano-LUAD","v":66,"j":-0.06,"h":"A"},{"g":"Piano-LUAD","v":66.1,"j":0.04,"h":"A"},{"g":"Piano-LUAD","v":65.1,"j":0.07,"h":"A"},{"g":"Piano-LUAD","v":64.4,"j":0.09,"h":"A"},{"g":"Piano-LUAD","v":64.4,"j":-0.04,"h":"A"},{"g":"Piano-LUAD","v":64,"j":-0.01,"h":"A"},{"g":"Piano-LUAD","v":63.5,"j":-0.14,"h":"A"},{"g":"Piano-LUAD","v":62.9,"j":-0.06,"h":"A"},{"g":"Piano-LUAD","v":62.8,"j":0.08,"h":"A"},{"g":"Piano-LUAD","v":62.2,"j":-0.05,"h":"A"},{"g":"Piano-LUAD","v":59.9,"j":-0.02,"h":"A"},{"g":"Piano-LUAD","v":58.7,"j":0.07,"h":"A"},{"g":"Piano-LUAD","v":58.1,"j":0.06,"h":"A"},{"g":"Piano-LUAD","v":57.4,"j":-0.1,"h":"A"},{"g":"Piano-LUAD","v":56.2,"j":-0.13,"h":"A"},{"g":"Piano-LUAD","v":56,"j":-0.03,"h":"A"},{"g":"Piano-LUAD","v":55.3,"j":-0.06,"h":"A"},{"g":"Piano-LUAD","v":51.3,"j":-0.02,"h":"A"},{"g":"Piano-LUAD","v":50.9,"j":-0.11,"h":"A"},{"g":"Piano-LUAD","v":49.8,"j":-0.13,"h":"A"},{"g":"Piano-LUAD","v":48.7,"j":0.1,"h":"A"},{"g":"Piano-LUAD","v":44,"j":0.04,"h":"A"},{"g":"Piano-LUAD","v":40.9,"j":0.02,"h":"A"},{"g":"Piano-LUAD","v":35.4,"j":0.01,"h":"A"},{"g":"Piano-LUAD","v":34.4,"j":-0.13,"h":"A"},{"g":"Piano-LUAD","v":32.3,"j":-0.05,"h":"A"},{"g":"Piano-LUAD","v":31.7,"j":0.03,"h":"A"},{"g":"Piano-LUAD","v":13.9,"j":0.03,"h":"A"},
{"g":"Piano-Carcinoids","v":71.5,"j":-0.07,"h":"C"},{"g":"Piano-Carcinoids","v":68.4,"j":0.1,"h":"C"},{"g":"Piano-Carcinoids","v":66.6,"j":-0.09,"h":"C"},{"g":"Piano-Carcinoids","v":65.4,"j":0,"h":"C"},{"g":"Piano-Carcinoids","v":64.7,"j":-0.04,"h":"C"},{"g":"Piano-Carcinoids","v":64.5,"j":0.02,"h":"C"},{"g":"Piano-Carcinoids","v":61,"j":-0.14,"h":"C"},{"g":"Piano-Carcinoids","v":54.3,"j":0.05,"h":"C"},{"g":"Piano-Carcinoids","v":55,"j":0.14,"h":"C"},{"g":"Piano-Carcinoids","v":51.4,"j":-0.09,"h":"C"},{"g":"Piano-Carcinoids","v":48.7,"j":-0.13,"h":"C"},{"g":"Piano-Carcinoids","v":47.9,"j":0.05,"h":"C"},{"g":"Piano-Carcinoids","v":42,"j":-0.15,"h":"C"},{"g":"Piano-Carcinoids","v":30.5,"j":-0.09,"h":"C"},{"g":"Piano-Carcinoids","v":13.9,"j":0.03,"h":"C"}
],
"Bb": [
{"g":"Forte","x":1,"q1":0,"q3":5.0,"med":0},
{"g":"Mezzo–forte","x":2,"q1":0,"q3":13.9,"med":0},
{"g":"Piano","x":3,"q1":1.0,"q3":17.2,"med":9.1}
],
"Bp": [
{"g":"Forte","x":1.0,"y":37.1,"lo":34.5,"hi":39.5},{"g":"Forte","x":1.01,"y":22.0,"lo":19.5,"hi":24.5},{"g":"Forte","x":1.0,"y":18.0,"lo":16,"hi":20},{"g":"Forte","x":1.0,"y":16.0,"lo":14,"hi":18.5},{"g":"Forte","x":1.02,"y":15.1,"lo":13,"hi":17},{"g":"Forte","x":1.02,"y":13.1,"lo":11,"hi":15},{"g":"Forte","x":1.02,"y":9.5,"lo":7.5,"hi":11.5},{"g":"Forte","x":0.99,"y":6.5,"lo":5,"hi":8},{"g":"Forte","x":0.94,"y":5.2,"lo":4,"hi":6.5},{"g":"Forte","x":1.0,"y":4.9,"lo":3.5,"hi":6.5},{"g":"Forte","x":1.05,"y":5.7,"lo":4,"hi":7.5},{"g":"Forte","x":1.02,"y":3.2,"lo":2,"hi":4.5},{"g":"Forte","x":0.95,"y":1.9,"lo":1,"hi":3},{"g":"Forte","x":0.89,"y":1.0,"lo":0.4,"hi":1.6},{"g":"Forte","x":1.25,"y":1.4,"lo":0.7,"hi":2.2},{"g":"Forte","x":1.27,"y":1.5,"lo":0.8,"hi":2.4},{"g":"Forte","x":0.99,"y":0.6,"lo":0.2,"hi":1},{"g":"Forte","x":1.05,"y":0.5,"lo":0.2,"hi":1},
{"g":"Forte","x":0.69,"y":0},{"g":"Forte","x":0.73,"y":0},{"g":"Forte","x":0.78,"y":0},{"g":"Forte","x":0.85,"y":0},{"g":"Forte","x":0.87,"y":0},{"g":"Forte","x":0.98,"y":0},{"g":"Forte","x":1.15,"y":0},{"g":"Forte","x":1.21,"y":0},{"g":"Forte","x":1.25,"y":0},{"g":"Forte","x":1.31,"y":0},{"g":"Forte","x":1.34,"y":0},
{"g":"Mezzo–forte","x":1.99,"y":47.4,"lo":43,"hi":51.3},{"g":"Mezzo–forte","x":1.98,"y":30.3,"lo":27.5,"hi":32.5},{"g":"Mezzo–forte","x":1.95,"y":29.5,"lo":26.5,"hi":32},{"g":"Mezzo–forte","x":2.02,"y":28.5,"lo":25.5,"hi":31.5},{"g":"Mezzo–forte","x":1.94,"y":25.9,"lo":23,"hi":28},{"g":"Mezzo–forte","x":2.04,"y":24.2,"lo":21,"hi":27},{"g":"Mezzo–forte","x":1.99,"y":22.9,"lo":20,"hi":25},{"g":"Mezzo–forte","x":2.0,"y":21.6,"lo":18.5,"hi":24},{"g":"Mezzo–forte","x":1.99,"y":20.1,"lo":17.5,"hi":22.5},{"g":"Mezzo–forte","x":2.06,"y":20.6,"lo":17.5,"hi":23},{"g":"Mezzo–forte","x":2.05,"y":18.1,"lo":15,"hi":21},{"g":"Mezzo–forte","x":2.08,"y":18.0,"lo":15,"hi":20.5},{"g":"Mezzo–forte","x":2.02,"y":17.3,"lo":15,"hi":19.5},{"g":"Mezzo–forte","x":2.09,"y":14.6,"lo":12,"hi":17},{"g":"Mezzo–forte","x":2.08,"y":13.9,"lo":11.5,"hi":16},{"g":"Mezzo–forte","x":1.91,"y":11.9,"lo":9,"hi":14.5},{"g":"Mezzo–forte","x":1.95,"y":11.9,"lo":9.5,"hi":14},{"g":"Mezzo–forte","x":2.02,"y":12.0,"lo":9.5,"hi":14.5},{"g":"Mezzo–forte","x":1.9,"y":9.3,"lo":7,"hi":11.5},{"g":"Mezzo–forte","x":1.96,"y":9.3,"lo":7,"hi":11.5},{"g":"Mezzo–forte","x":2.12,"y":9.0,"lo":7,"hi":11},{"g":"Mezzo–forte","x":2.01,"y":8.4,"lo":6,"hi":10.5},{"g":"Mezzo–forte","x":1.83,"y":4.3,"lo":2.5,"hi":6.5},{"g":"Mezzo–forte","x":1.75,"y":2.8,"lo":1.5,"hi":4},{"g":"Mezzo–forte","x":1.95,"y":1.5,"lo":0.5,"hi":2.5},{"g":"Mezzo–forte","x":2.14,"y":2.3,"lo":1.2,"hi":3.3},{"g":"Mezzo–forte","x":2.23,"y":1.4,"lo":0.6,"hi":2.3},{"g":"Mezzo–forte","x":2.16,"y":0.6,"lo":0.2,"hi":1.2},
{"g":"Mezzo–forte","x":1.66,"y":0},{"g":"Mezzo–forte","x":1.73,"y":0},{"g":"Mezzo–forte","x":1.78,"y":0},{"g":"Mezzo–forte","x":1.84,"y":0},{"g":"Mezzo–forte","x":1.87,"y":0},{"g":"Mezzo–forte","x":1.91,"y":0},{"g":"Mezzo–forte","x":1.95,"y":0},{"g":"Mezzo–forte","x":1.98,"y":0},{"g":"Mezzo–forte","x":2.03,"y":0},{"g":"Mezzo–forte","x":2.08,"y":0},{"g":"Mezzo–forte","x":2.11,"y":0},{"g":"Mezzo–forte","x":2.14,"y":0},{"g":"Mezzo–forte","x":2.17,"y":0},{"g":"Mezzo–forte","x":2.22,"y":0},{"g":"Mezzo–forte","x":2.26,"y":0},{"g":"Mezzo–forte","x":2.29,"y":0},{"g":"Mezzo–forte","x":2.34,"y":0},
{"g":"Piano","x":2.97,"y":47.2,"lo":42,"hi":52.5},{"g":"Piano","x":3.05,"y":42.5,"lo":38,"hi":47},{"g":"Piano","x":3.02,"y":40.5,"lo":36,"hi":45},{"g":"Piano","x":3.05,"y":37.7,"lo":33,"hi":42},{"g":"Piano","x":2.95,"y":32.7,"lo":28,"hi":37},{"g":"Piano","x":2.99,"y":32.4,"lo":27.5,"hi":36.5},{"g":"Piano","x":2.98,"y":27.9,"lo":24,"hi":32},{"g":"Piano","x":2.98,"y":27.7,"lo":23.5,"hi":32},{"g":"Piano","x":3.02,"y":25.2,"lo":21,"hi":29},{"g":"Piano","x":3.09,"y":23.3,"lo":19,"hi":27.5},{"g":"Piano","x":2.97,"y":19.6,"lo":16,"hi":23},{"g":"Piano","x":2.96,"y":18.0,"lo":15,"hi":21.5},{"g":"Piano","x":2.83,"y":17.1,"lo":14,"hi":20},{"g":"Piano","x":2.88,"y":17.4,"lo":14.5,"hi":20.5},{"g":"Piano","x":2.94,"y":13.9,"lo":11,"hi":17},{"g":"Piano","x":3.01,"y":13.7,"lo":11,"hi":16.5},{"g":"Piano","x":2.83,"y":12.3,"lo":9.5,"hi":15},{"g":"Piano","x":3.11,"y":12.4,"lo":9.5,"hi":15.5},{"g":"Piano","x":3.23,"y":12.6,"lo":10,"hi":15},{"g":"Piano","x":3.25,"y":12.1,"lo":9.5,"hi":14.5},{"g":"Piano","x":2.94,"y":11.7,"lo":9,"hi":14},{"g":"Piano","x":2.74,"y":11.1,"lo":8.5,"hi":14},{"g":"Piano","x":2.77,"y":11.3,"lo":8.5,"hi":14},{"g":"Piano","x":3.25,"y":10.7,"lo":8,"hi":13},{"g":"Piano","x":3.07,"y":9.6,"lo":7,"hi":12},{"g":"Piano","x":2.83,"y":8.6,"lo":6,"hi":11},{"g":"Piano","x":3.23,"y":8.1,"lo":6,"hi":10.5},{"g":"Piano","x":2.76,"y":6.9,"lo":5,"hi":9},{"g":"Piano","x":3.3,"y":6.9,"lo":5,"hi":9},{"g":"Piano","x":3.28,"y":6.4,"lo":4.5,"hi":8.5},{"g":"Piano","x":3.03,"y":6.4,"lo":4.5,"hi":8.5},{"g":"Piano","x":3.02,"y":6.1,"lo":4,"hi":8},{"g":"Piano","x":2.65,"y":5.1,"lo":3,"hi":7.5},{"g":"Piano","x":3.12,"y":4.5,"lo":2.5,"hi":6.5},{"g":"Piano","x":2.75,"y":2.4,"lo":1,"hi":4},{"g":"Piano","x":2.83,"y":2.3,"lo":1,"hi":3.5},{"g":"Piano","x":3.13,"y":2.3,"lo":1,"hi":3.5},{"g":"Piano","x":3.14,"y":1.3,"lo":0.5,"hi":2},
{"g":"Piano","x":2.7,"y":0},{"g":"Piano","x":2.75,"y":0},{"g":"Piano","x":2.87,"y":0},{"g":"Piano","x":2.92,"y":0},{"g":"Piano","x":2.93,"y":0},{"g":"Piano","x":3.04,"y":0},{"g":"Piano","x":3.09,"y":0},{"g":"Piano","x":3.16,"y":0},{"g":"Piano","x":3.17,"y":0},{"g":"Piano","x":3.22,"y":0},{"g":"Piano","x":3.28,"y":0}
]
},
"concat": [
{
 "width": 1737, "height": 442,
 "data": {"name": "A"},
 "transform": [{"lookup": "i", "from": {"data": {"name": "catsA"}, "key": "i", "fields": ["c"]}}],
 "title": {"text": "a", "anchor": "start", "frame": "bounds", "dy": 52, "font": "Liberation Sans Narrow, Liberation Sans", "fontSize": 22, "fontWeight": "bold", "color": "#000", "offset": 0},
 "resolve": {"scale": {"size": "independent"}},
 "layer": [
  {"transform": [{"filter": "isValid(datum.v)"}, {"joinaggregate": [{"op": "min", "field": "v", "as": "vmin"}, {"op": "max", "field": "v", "as": "vmax"}], "groupby": ["i"]}, {"density": "v", "groupby": ["c", "i", "vmin", "vmax"], "steps": 250, "as": ["v", "dens"]}, {"filter": "datum.v >= datum.vmin - 0.14 && datum.v <= datum.vmax + 0.14"}],
   "mark": {"type": "tick", "orient": "horizontal", "thickness": 2, "color": "#8a8a8a", "opacity": 1},
   "encoding": {
    "x": {"field": "c", "type": "nominal", "title": null, "sort": {"field": "i", "op": "min"}, "scale": {"type": "point", "padding": 0.6},
      "axis": {"labelAngle": -45, "labelAlign": "right", "labelBaseline": "top", "labelOffset": 4, "labelPadding": 0, "labelLimit": 400, "labelFont": "Liberation Sans Narrow, Liberation Sans", "labelFontStyle": "italic", "labelFontSize": 12, "labelColor": "#4d4d4d", "ticks": true, "tickSize": 5, "tickColor": "#555", "grid": true, "gridColor": "#e8e8e8", "domain": true, "domainColor": "#dedede"}},
    "y": {"field": "v", "type": "quantitative", "title": "Estimated MRCA age (yr)", "scale": {"domain": [15.1, 89.2], "nice": false, "zero": false},
      "axis": {"values": [20,30,40,50,60,70,80], "labelExpr": "datum.value % 20 == 0 ? datum.label : ''", "labelFont": "Liberation Sans Narrow, Roboto", "labelFontSize": 12, "labelColor": "#4d4d4d", "labelPadding": 6, "ticks": false, "domain": true, "domainColor": "#dedede", "gridColor": "#e8e8e8", "titleFont": "Liberation Sans", "titleFontSize": 16, "titleColor": "#000", "titlePadding": 22}},
    "size": {"field": "dens", "type": "quantitative", "scale": {"domain": [0, 1], "range": [1.6, 251.6], "zero": false}, "legend": null}
   }},
  {"transform": [{"filter": "isValid(datum.v)"}, {"joinaggregate": [{"op": "min", "field": "v", "as": "vmin"}, {"op": "max", "field": "v", "as": "vmax"}], "groupby": ["i"]}, {"density": "v", "groupby": ["c", "i", "vmin", "vmax"], "steps": 250, "as": ["v", "dens"]}, {"filter": "datum.v >= datum.vmin - 0.14 && datum.v <= datum.vmax + 0.14"}],
   "mark": {"type": "tick", "orient": "horizontal", "thickness": 2, "color": "#a9a9a9", "opacity": 1},
   "encoding": {
    "x": {"field": "c", "type": "nominal", "title": null, "sort": {"field": "i", "op": "min"}},
    "y": {"field": "v", "type": "quantitative", "title": "Estimated MRCA age (yr)"},
    "size": {"field": "dens", "type": "quantitative", "scale": {"domain": [0, 1], "range": [0, 250], "zero": false}, "legend": null}
   }},
  {"transform": [{"filter": "isValid(datum.m)"}],
   "mark": {"type": "rule", "color": "#555555", "strokeWidth": 1},
   "encoding": {"x": {"field": "c", "type": "nominal", "title": null, "sort": {"field": "i", "op": "min"}}, "y": {"field": "lo", "type": "quantitative", "title": "Estimated MRCA age (yr)"}, "y2": {"field": "hi"}}},
  {"transform": [{"filter": "isValid(datum.m)"}],
   "mark": {"type": "bar", "width": 5, "fill": "#79c77b", "stroke": "#4d4d4d", "strokeWidth": 0.6},
   "encoding": {"x": {"field": "c", "type": "nominal", "title": null, "sort": {"field": "i", "op": "min"}}, "y": {"field": "q1", "type": "quantitative", "title": "Estimated MRCA age (yr)"}, "y2": {"field": "q3"}}},
  {"transform": [{"filter": "datum.i == 1 && isValid(datum.m)"}],
   "mark": {"type": "rule", "color": "#1414ff", "strokeWidth": 1.8},
   "encoding": {"y": {"datum": 62, "type": "quantitative"}}},
  {"transform": [{"filter": "datum.i == 1 && isValid(datum.m)"}],
   "mark": {"type": "rule", "color": "#1414ff", "strokeWidth": 1.8, "strokeDash": [6, 4]},
   "encoding": {"y": {"datum": 69, "type": "quantitative"}}},
  {"transform": [{"filter": "isValid(datum.m)"}],
   "mark": {"type": "line", "color": "#ff8010", "strokeWidth": 1.8},
   "encoding": {"x": {"field": "c", "type": "nominal", "title": null, "sort": {"field": "i", "op": "min"}}, "y": {"field": "m", "type": "quantitative", "title": "Estimated MRCA age (yr)"}}},
  {"transform": [{"filter": "isValid(datum.m)"}],
   "mark": {"type": "line", "color": "#ff8010", "strokeWidth": 1.6, "strokeDash": [6, 4]},
   "encoding": {"x": {"field": "c", "type": "nominal", "title": null, "sort": {"field": "i", "op": "min"}}, "y": {"field": "d", "type": "quantitative", "title": "Estimated MRCA age (yr)"}}},
  {"transform": [{"filter": "isValid(datum.v) && datum.h == 'A'"}],
   "mark": {"type": "circle", "opacity": 1, "size": 42, "strokeWidth": 1.1},
   "encoding": {
    "x": {"field": "c", "type": "nominal", "title": null, "sort": {"field": "i", "op": "min"}},
    "xOffset": {"field": "j", "type": "quantitative", "scale": {"domain": [-0.5, 0.5], "range": [-20.1, 20.1]}},
    "y": {"field": "v", "type": "quantitative", "title": "Estimated MRCA age (yr)"},
    "fill": {"field": "h", "type": "nominal", "title": "Histology", "scale": {"domain": ["A","C","O"], "range": ["#D01C8B","#A6611A","#F1B6DA"]},
      "legend": {"orient": "none", "legendX": 675, "legendY": -44, "direction": "horizontal", "titleOrient": "left", "titleFont": "Liberation Sans Narrow, Roboto", "titleFontSize": 15, "titleColor": "#222", "titlePadding": 14, "labelFont": "Liberation Sans Narrow, Roboto", "labelFontSize": 13, "labelColor": "#222", "labelOffset": 14, "columnPadding": 14, "symbolSize": 55, "symbolStrokeWidth": 1.5, "labelExpr": "datum.label == 'A' ? 'Adenocarcinomas' : datum.label == 'C' ? 'Carcinoids' : 'Others'"}},
    "stroke": {"field": "h", "type": "nominal", "title": "Histology", "scale": {"domain": ["A","C","O"], "range": ["#ffffff","#000000","#000000"]},
      "legend": {"orient": "none", "legendX": 675, "legendY": -44, "direction": "horizontal", "titleOrient": "left", "titleFont": "Liberation Sans Narrow, Roboto", "titleFontSize": 15, "titleColor": "#222", "titlePadding": 14, "labelFont": "Liberation Sans Narrow, Roboto", "labelFontSize": 13, "labelColor": "#222", "labelOffset": 14, "columnPadding": 14, "symbolSize": 55, "symbolStrokeWidth": 1.5, "labelExpr": "datum.label == 'A' ? 'Adenocarcinomas' : datum.label == 'C' ? 'Carcinoids' : 'Others'"}}
   }},
  {"transform": [{"filter": "isValid(datum.v) && datum.h != 'A'"}],
   "mark": {"type": "circle", "opacity": 1, "size": 62, "strokeWidth": 1.4},
   "encoding": {
    "x": {"field": "c", "type": "nominal", "title": null, "sort": {"field": "i", "op": "min"}},
    "xOffset": {"field": "j", "type": "quantitative", "scale": {"domain": [-0.5, 0.5], "range": [-20.1, 20.1]}},
    "y": {"field": "v", "type": "quantitative", "title": "Estimated MRCA age (yr)"},
    "fill": {"field": "h", "type": "nominal", "title": "Histology"},
    "stroke": {"field": "h", "type": "nominal", "title": "Histology"}
   }}
 ]
},
{"hconcat": [
{"width": 1, "height": 1, "data": {"values": [{}]}, "mark": {"type": "point", "opacity": 0, "size": 0}, "encoding": {}},
{"hconcat": [
{
 "width": 443, "height": 359,
 "view": {"stroke": "#000000", "strokeWidth": 1.2},
 "title": {"text": "b", "anchor": "start", "frame": "bounds", "dx": -47, "dy": 28, "font": "Liberation Sans Narrow, Liberation Sans", "fontSize": 22, "fontWeight": "bold", "color": "#000"},
 "layer": [
  {"data": {"name": "Bb"},
   "mark": {"type": "bar", "width": 100, "stroke": "#8f8f8f", "strokeWidth": 1},
   "encoding": {
    "x": {"field": "x", "type": "quantitative", "title": null, "scale": {"domain": [0.42, 3.61], "nice": false, "zero": false},
      "axis": {"values": [1,2,3], "labelExpr": "datum.value == 1 ? 'Forte' : datum.value == 2 ? 'Mezzo–forte' : 'Piano'", "labelAngle": -45, "labelAlign": "right", "labelBaseline": "top", "labelOffset": 18, "labelFont": "Liberation Sans", "labelFontStyle": "italic", "labelFontSize": 17, "labelColor": "#000", "labelPadding": 6, "ticks": false, "domain": false, "grid": false}},
    "y": {"field": "q1", "type": "quantitative", "title": "Latency (year)", "scale": {"domain": [0, 52.5], "nice": false, "zero": false},
      "axis": {"values": [0,5,10,15,20,25,30,35,40,45,50], "labelExpr": "datum.value % 10 == 0 ? datum.label : ''", "tickOpacity": {"condition": {"test": "datum.value % 10 == 0", "value": 1}, "value": 0}, "tickSize": 7, "tickColor": "#000", "domain": false, "grid": true, "gridDash": [2, 3], "gridColor": "#c8c8c8", "labelAngle": -90, "labelAlign": "center", "labelBaseline": "bottom", "labelPadding": 14, "labelFont": "Liberation Sans", "labelFontSize": 15, "labelColor": "#000", "titleFont": "Liberation Sans", "titleFontSize": 17, "titleColor": "#000", "titlePadding": 20}},
    "y2": {"field": "q3"},
    "color": {"field": "g", "type": "nominal", "scale": {"domain": ["Forte","Mezzo–forte","Piano"], "range": ["#FDD5BA","#BCEBC9","#BBD5EA"]}, "legend": null}
   }},
  {"data": {"name": "Bb"}, "transform": [{"filter": "datum.x == 1"}],
   "mark": {"type": "rule", "color": "#000", "strokeWidth": 1.6},
   "encoding": {"y": {"datum": 0, "type": "quantitative", "title": "Latency (year)"}}},
  {"data": {"name": "Bb"},
   "mark": {"type": "tick", "orient": "horizontal", "size": 92, "thickness": 2, "color": "#000", "opacity": 1},
   "encoding": {"x": {"field": "x", "type": "quantitative", "title": null}, "y": {"field": "med", "type": "quantitative", "title": "Latency (year)"}}},
  {"data": {"name": "Bp"}, "transform": [{"filter": "isValid(datum.lo)"}],
   "mark": {"type": "rule", "color": "#8a8a8a", "strokeWidth": 1},
   "encoding": {"x": {"field": "x", "type": "quantitative", "title": null}, "y": {"field": "lo", "type": "quantitative", "title": "Latency (year)"}, "y2": {"field": "hi"}}},
  {"data": {"name": "Bp"},
   "mark": {"type": "circle", "opacity": 1, "size": 52, "stroke": "#303030", "strokeWidth": 0.6},
   "encoding": {"x": {"field": "x", "type": "quantitative", "title": null}, "y": {"field": "y", "type": "quantitative", "title": "Latency (year)"},
    "fill": {"field": "g", "type": "nominal", "scale": {"domain": ["Forte","Mezzo–forte","Piano"], "range": ["#F25A0F","#0E9419","#0B62AE"]}, "legend": null}}}
 ]
},
{
 "width": 481, "height": 613,
 "data": {"name": "C"},
 "title": {"text": "c", "anchor": "start", "frame": "bounds", "dx": -37, "dy": 42, "font": "Roboto", "fontSize": 22, "fontWeight": "bold", "color": "#000"},
 "resolve": {"scale": {"size": "independent"}},
 "layer": [
  {"transform": [{"filter": "isValid(datum.v)"}, {"joinaggregate": [{"op": "min", "field": "v", "as": "vmin"}, {"op": "max", "field": "v", "as": "vmax"}], "groupby": ["g"]}, {"density": "v", "groupby": ["g", "vmin", "vmax"], "steps": 300, "as": ["v", "dens"]}, {"filter": "datum.v >= datum.vmin - 0.12 && datum.v <= datum.vmax + 0.12"}],
   "mark": {"type": "tick", "orient": "horizontal", "thickness": 2.2, "color": "#9a9a9a", "opacity": 1},
   "encoding": {
    "x": {"field": "g", "type": "nominal", "title": null, "sort": ["Forte","Mezzo-forte","Piano-LUAD","Piano-Carcinoids"], "scale": {"type": "point", "padding": 0.6},
      "axis": {"labelAngle": -45, "labelAlign": "right", "labelBaseline": "top", "labelOffset": 0, "labelPadding": 2, "labelFont": "Roboto", "labelFontSize": 15, "labelColor": "#4d4d4d", "ticks": true, "tickSize": 6, "tickColor": "#444", "grid": false, "domain": true, "domainColor": "#dedede"}},
    "y": {"field": "v", "type": "quantitative", "title": "Estimated MRCA age (yr)", "scale": {"domain": [10.2, 93.4], "nice": false, "zero": false},
      "axis": {"values": [20,30,40,50,60,70,80], "labelExpr": "datum.value % 20 == 0 ? datum.label : ''", "labelFont": "Roboto", "labelFontSize": 14, "labelColor": "#4d4d4d", "labelPadding": 4, "ticks": true, "tickSize": 4, "tickColor": "#777", "domain": true, "domainColor": "#dedede", "gridColor": "#e6e6e6", "titleFont": "Liberation Sans Narrow, Roboto", "titleFontSize": 16, "titleColor": "#000", "titlePadding": 18}},
    "size": {"field": "dens", "type": "quantitative", "scale": {"domain": [0, 1], "range": [1.6, 3201.6], "zero": false}, "legend": null}
   }},
  {"transform": [{"filter": "isValid(datum.v)"}, {"joinaggregate": [{"op": "min", "field": "v", "as": "vmin"}, {"op": "max", "field": "v", "as": "vmax"}], "groupby": ["g"]}, {"density": "v", "groupby": ["g", "vmin", "vmax"], "steps": 300, "as": ["v", "dens"]}, {"filter": "datum.v >= datum.vmin - 0.12 && datum.v <= datum.vmax + 0.12"}],
   "mark": {"type": "tick", "orient": "horizontal", "thickness": 2.2, "color": "#b3b3b3", "opacity": 1},
   "encoding": {
    "x": {"field": "g", "type": "nominal", "title": null, "sort": ["Forte","Mezzo-forte","Piano-LUAD","Piano-Carcinoids"]},
    "y": {"field": "v", "type": "quantitative", "title": "Estimated MRCA age (yr)"},
    "size": {"field": "dens", "type": "quantitative", "scale": {"domain": [0, 1], "range": [0, 3200], "zero": false}, "legend": null}
   }},
  {"transform": [{"filter": "isValid(datum.m)"}],
   "mark": {"type": "rule", "color": "#555555", "strokeWidth": 1},
   "encoding": {"x": {"field": "g", "type": "nominal", "title": null, "sort": ["Forte","Mezzo-forte","Piano-LUAD","Piano-Carcinoids"]}, "y": {"field": "lo", "type": "quantitative", "title": "Estimated MRCA age (yr)"}, "y2": {"field": "hi"}}},
  {"transform": [{"filter": "isValid(datum.m)"}],
   "mark": {"type": "bar", "width": 11.5, "fill": "#79c77b", "stroke": "#4d4d4d", "strokeWidth": 0.6},
   "encoding": {"x": {"field": "g", "type": "nominal", "title": null, "sort": ["Forte","Mezzo-forte","Piano-LUAD","Piano-Carcinoids"]}, "y": {"field": "q1", "type": "quantitative", "title": "Estimated MRCA age (yr)"}, "y2": {"field": "q3"}}},
  {"transform": [{"filter": "datum.g == 'Forte' && isValid(datum.m)"}],
   "mark": {"type": "rule", "color": "#1414ff", "strokeWidth": 1.6},
   "encoding": {"y": {"datum": 62, "type": "quantitative"}}},
  {"transform": [{"filter": "datum.g == 'Forte' && isValid(datum.m)"}],
   "mark": {"type": "rule", "color": "#1414ff", "strokeWidth": 1.6, "strokeDash": [7, 4]},
   "encoding": {"y": {"datum": 69, "type": "quantitative"}}},
  {"transform": [{"filter": "isValid(datum.m)"}],
   "mark": {"type": "line", "color": "#ff8010", "strokeWidth": 1.6},
   "encoding": {"x": {"field": "g", "type": "nominal", "title": null, "sort": ["Forte","Mezzo-forte","Piano-LUAD","Piano-Carcinoids"]}, "y": {"field": "m", "type": "quantitative", "title": "Estimated MRCA age (yr)"}}},
  {"transform": [{"filter": "isValid(datum.m)"}],
   "mark": {"type": "line", "color": "#ff8010", "strokeWidth": 1.6, "strokeDash": [7, 4]},
   "encoding": {"x": {"field": "g", "type": "nominal", "title": null, "sort": ["Forte","Mezzo-forte","Piano-LUAD","Piano-Carcinoids"]}, "y": {"field": "d", "type": "quantitative", "title": "Estimated MRCA age (yr)"}}},
  {"transform": [{"filter": "isValid(datum.v) && datum.h == 'A'"}],
   "mark": {"type": "circle", "opacity": 1, "size": 50, "strokeWidth": 1.2},
   "encoding": {
    "x": {"field": "g", "type": "nominal", "title": null, "sort": ["Forte","Mezzo-forte","Piano-LUAD","Piano-Carcinoids"]},
    "xOffset": {"field": "j", "type": "quantitative", "scale": {"domain": [-0.5, 0.5], "range": [-57.25, 57.25]}},
    "y": {"field": "v", "type": "quantitative", "title": "Estimated MRCA age (yr)"},
    "fill": {"field": "h", "type": "nominal", "title": "Histology", "scale": {"domain": ["A","C","O"], "range": ["#D01C8B","#A6611A","#F1B6DA"]},
      "legend": {"orient": "none", "legendX": 47, "legendY": -15, "direction": "horizontal", "titleOrient": "left", "titleFont": "Roboto", "titleFontSize": 16, "titleColor": "#222", "titlePadding": 14, "labelFont": "Roboto", "labelFontSize": 13.5, "labelColor": "#222", "labelOffset": 14, "columnPadding": 14, "symbolSize": 60, "symbolStrokeWidth": 1.5, "labelExpr": "datum.label == 'A' ? 'Adenocarcinomas' : datum.label == 'C' ? 'Carcinoids' : 'Others'"}},
    "stroke": {"field": "h", "type": "nominal", "title": "Histology", "scale": {"domain": ["A","C","O"], "range": ["#ffffff","#000000","#000000"]},
      "legend": {"orient": "none", "legendX": 47, "legendY": -15, "direction": "horizontal", "titleOrient": "left", "titleFont": "Roboto", "titleFontSize": 16, "titleColor": "#222", "titlePadding": 14, "labelFont": "Roboto", "labelFontSize": 13.5, "labelColor": "#222", "labelOffset": 14, "columnPadding": 14, "symbolSize": 60, "symbolStrokeWidth": 1.5, "labelExpr": "datum.label == 'A' ? 'Adenocarcinomas' : datum.label == 'C' ? 'Carcinoids' : 'Others'"}}
   }},
  {"transform": [{"filter": "isValid(datum.v) && datum.h != 'A'"}],
   "mark": {"type": "circle", "opacity": 1, "size": 70, "strokeWidth": 1.4},
   "encoding": {
    "x": {"field": "g", "type": "nominal", "title": null, "sort": ["Forte","Mezzo-forte","Piano-LUAD","Piano-Carcinoids"]},
    "xOffset": {"field": "j", "type": "quantitative", "scale": {"domain": [-0.5, 0.5], "range": [-57.25, 57.25]}},
    "y": {"field": "v", "type": "quantitative", "title": "Estimated MRCA age (yr)"},
    "fill": {"field": "h", "type": "nominal", "title": "Histology"},
    "stroke": {"field": "h", "type": "nominal", "title": "Histology"}
   }}
 ]
}
],
"spacing": 170,
"resolve": {"scale": {"x": "independent", "y": "independent", "fill": "independent", "stroke": "independent", "size": "independent", "color": "independent"}, "legend": {"fill": "independent", "stroke": "independent", "size": "independent"}}
}
],
"spacing": -57,
"resolve": {"scale": {"x": "independent", "y": "independent", "fill": "independent", "stroke": "independent", "size": "independent", "color": "independent"}, "legend": {"fill": "independent", "stroke": "independent", "size": "independent"}}
}
]
}
